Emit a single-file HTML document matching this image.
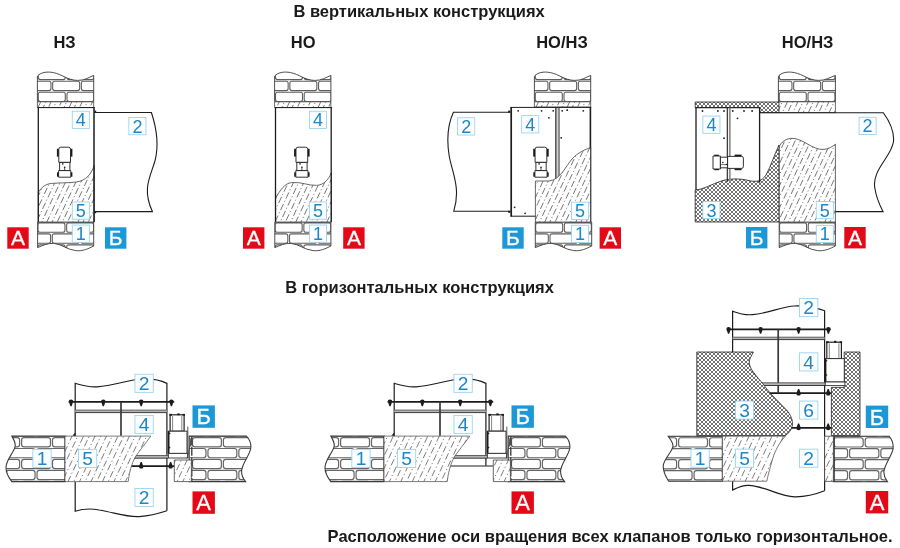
<!DOCTYPE html>
<html lang="ru"><head><meta charset="utf-8"><title>Схемы установки клапанов</title>
<style>
html,body{margin:0;padding:0;background:#fff;}
body{width:900px;height:548px;overflow:hidden;font-family:"Liberation Sans",sans-serif;}
svg{display:block;font-family:"Liberation Sans",sans-serif;opacity:0.999;will-change:transform;}
</style></head><body>
<svg width="900" height="548" viewBox="0 0 900 548">
<defs>
<pattern id="xh" width="4" height="4" patternUnits="userSpaceOnUse">
<rect width="4" height="4" fill="#fff"/>
<path d="M-1 -1 L5 5 M-1 5 L5 -1 M-1 3 L1 5 M3 -1 L5 1 M-1 1 L1 -1 M3 5 L5 3" stroke="#222" stroke-width="0.5" fill="none"/>
<path d="M0 0 h0.01 M4 0 h0.01 M0 4 h0.01 M4 4 h0.01 M2 2 h0.01" stroke="#1a1a1a" stroke-width="1.0" stroke-linecap="square" fill="none"/>
</pattern>
<clipPath id="c1"><path d="M37.4 101.6 V76.2 C40.4 72.6 46.4 71.2 53.4 72.6 C62.4 74.4 67.4 80.2 77.4 80.4 C84.4 80.6 88.4 77.6 93.7 75.4 V101.6 Z"/></clipPath>
<clipPath id="c2"><path d="M37.4 101.8 H93.7 V107.5 H37.4 Z"/></clipPath>
<clipPath id="c3"><path d="M37.6 222 H93.7 V246 C88.7 248.5 82.7 251.5 75.7 250.6 C66.7 249.6 61.7 244 53.7 243.4 C47.7 243 42.7 245.5 37.6 247.6 Z"/></clipPath>
<clipPath id="c4"><path d="M38.3 192.4 C42.3 186 46.3 183.8 52.3 183.4 C62.3 182.6 68.3 183 76.3 182 C86.3 180.6 91.3 174 94.2 165.4 V222 H38.3 Z"/></clipPath>
<clipPath id="c5"><path d="M274.6 101.6 V76.2 C277.6 72.6 283.6 71.2 290.6 72.6 C299.6 74.4 304.6 80.2 314.6 80.4 C321.6 80.6 325.6 77.6 330.9 75.4 V101.6 Z"/></clipPath>
<clipPath id="c6"><path d="M274.6 101.8 H330.9 V107.5 H274.6 Z"/></clipPath>
<clipPath id="c7"><path d="M274.8 222 H330.9 V246 C325.9 248.5 319.9 251.5 312.9 250.6 C303.9 249.6 298.9 244 290.9 243.4 C284.9 243 279.9 245.5 274.8 247.6 Z"/></clipPath>
<clipPath id="c8"><path d="M275.5 198 C280.5 190 284.5 183.4 291.5 182.6 C301.5 181.6 307.5 185.6 316.5 185.4 C323.5 185 328.5 180 331.4 172.6 V222 H275.5 Z"/></clipPath>
<clipPath id="c9"><path d="M534.4 101.6 V76.2 C537.4 72.6 543.4 71.2 550.4 72.6 C559.4 74.4 564.4 80.2 574.4 80.4 C581.4 80.6 585.4 77.6 590.7 75.4 V101.6 Z"/></clipPath>
<clipPath id="c10"><path d="M534.4 101.8 H590.7 V107 H534.4 Z"/></clipPath>
<clipPath id="c11"><path d="M535.3 222 H591.7 V246 C586.7 248.5 580.7 251.5 573.7 250.6 C564.7 249.6 559.7 244 551.7 243.4 C545.7 243 540.7 245.5 535.3 247.6 Z"/></clipPath>
<clipPath id="c12"><path d="M535.4 181 H549 C560 180 566 166 572 159 C578 152.5 585 149.4 590.8 147.6 V222 H535.4 Z"/></clipPath>
<clipPath id="c13"><path d="M778.4 101.6 V76.2 C781.4 72.6 787.4 71.2 794.4 72.6 C803.4 74.4 808.4 80.2 818.4 80.4 C825.4 80.6 829.4 77.6 835.4 75.4 V101.6 Z"/></clipPath>
<clipPath id="c14"><path d="M778.4 101.8 H835.4 V112.6 H778.4 Z"/></clipPath>
<clipPath id="c15"><path d="M779.2 222 H835.4 V246 C830.4 248.5 824.4 251.5 817.4 250.6 C808.4 249.6 803.4 244 795.4 243.4 C789.4 243 784.4 245.5 779.2 247.6 Z"/></clipPath>
<clipPath id="c16"><path d="M779 222 V148 C779.6 144 784 139.4 790.5 138.4 C802 137 812 150.5 824 149.4 C829 148.8 832.5 146.6 835.4 144.2 V222 Z"/></clipPath>
<clipPath id="c17"><path d="M65 436.1 H11.8 C13.4 439 15.6 442 15.2 446 C14.4 452 6.4 459 6 467 C5.8 472 9 478 11.8 481.6 H65 Z"/></clipPath>
<clipPath id="c18"><path d="M189.2 436.1 H246.4 C249.4 439 251.2 443 250.8 448 C250 455 242.2 463 241.6 471 C241.4 475 243.4 479 245.6 481.6 H189.2 Z"/></clipPath>
<clipPath id="c19"><path d="M65 436.1 H150.8 C145 444 138.6 452 135.2 457 C131.4 464 129.2 473 128.2 481.6 H65 Z"/></clipPath>
<clipPath id="c20"><path d="M174.3 460 H191.4 V481.6 H174.3 Z"/></clipPath>
<clipPath id="c21"><path d="M384 436.1 H330.8 C332.4 439 334.6 442 334.2 446 C333.4 452 325.4 459 325 467 C324.8 472 328 478 330.8 481.6 H384 Z"/></clipPath>
<clipPath id="c22"><path d="M508.2 436.1 H565.4 C568.4 439 570.2 443 569.8 448 C569 455 561.2 463 560.6 471 C560.4 475 562.4 479 564.6 481.6 H508.2 Z"/></clipPath>
<clipPath id="c23"><path d="M384 436.1 H469.8 C464 444 457.6 452 454.2 457 C450.4 464 448.2 473 447.2 481.6 H384 Z"/></clipPath>
<clipPath id="c24"><path d="M493.3 460 H510.4 V481.6 H493.3 Z"/></clipPath>
<clipPath id="c25"><path d="M722.4 436.2 H668.2 C669.8 439 673 442 673 446 C672.4 452 663.6 459 663.2 466 C663 472 666 477 668.6 481.2 H722.4 Z"/></clipPath>
<clipPath id="c26"><path d="M833.4 436.2 H889 C891.6 439 893.4 443 893.2 448 C892.6 455 884.4 464 883.8 472 C883.8 476 885.4 479 887.4 481.7 H833.4 Z"/></clipPath>
<clipPath id="c27"><path d="M722.4 436.2 H785.4 C779 443 775 451 772.6 459 C770 468 768 475 766.8 481.2 H722.4 Z"/></clipPath>
<clipPath id="c28"><path d="M824.6 436.2 H833.4 V481.4 H824.6 Z"/></clipPath></defs>
<rect width="900" height="548" fill="#fff"/>
<text x="293.4" y="16.6" font-size="16.5" font-weight="bold" fill="#1a1a1a" text-anchor="start" letter-spacing="0">В вертикальных конструкциях</text>
<text x="53.4" y="47.6" font-size="16.5" font-weight="bold" fill="#1a1a1a" text-anchor="start" letter-spacing="0">НЗ</text>
<text x="290.8" y="47.6" font-size="16.5" font-weight="bold" fill="#1a1a1a" text-anchor="start" letter-spacing="0">НО</text>
<text x="536.2" y="47.8" font-size="16.5" font-weight="bold" fill="#1a1a1a" text-anchor="start" letter-spacing="0">НО/НЗ</text>
<text x="781.8" y="47.8" font-size="16.5" font-weight="bold" fill="#1a1a1a" text-anchor="start" letter-spacing="0">НО/НЗ</text>
<text x="285.2" y="292.6" font-size="16.5" font-weight="bold" fill="#1a1a1a" text-anchor="start" letter-spacing="0">В горизонтальных конструкциях</text>
<text x="327.6" y="541.8" font-size="16.5" font-weight="bold" fill="#1a1a1a" text-anchor="start" letter-spacing="0">Расположение оси вращения всех клапанов только горизонтальное.</text>
<g fill="#fff" stroke="#5e5e5e" stroke-width="1.1"><g clip-path="url(#c1)"><rect x="-4.75" y="59.2" width="27" height="9.4" rx="2.0" ry="2.0"/><rect x="23.95" y="59.2" width="27" height="9.4" rx="2.0" ry="2.0"/><rect x="52.65" y="59.2" width="27" height="9.4" rx="2.0" ry="2.0"/><rect x="81.35" y="59.2" width="27" height="9.4" rx="2.0" ry="2.0"/><rect x="110.05" y="59.2" width="27" height="9.4" rx="2.0" ry="2.0"/><rect x="-19.1" y="70.2" width="27" height="9.4" rx="2.0" ry="2.0"/><rect x="9.6" y="70.2" width="27" height="9.4" rx="2.0" ry="2.0"/><rect x="38.3" y="70.2" width="27" height="9.4" rx="2.0" ry="2.0"/><rect x="67" y="70.2" width="27" height="9.4" rx="2.0" ry="2.0"/><rect x="95.7" y="70.2" width="27" height="9.4" rx="2.0" ry="2.0"/><rect x="-4.75" y="81.2" width="27" height="9.4" rx="2.0" ry="2.0"/><rect x="23.95" y="81.2" width="27" height="9.4" rx="2.0" ry="2.0"/><rect x="52.65" y="81.2" width="27" height="9.4" rx="2.0" ry="2.0"/><rect x="81.35" y="81.2" width="27" height="9.4" rx="2.0" ry="2.0"/><rect x="110.05" y="81.2" width="27" height="9.4" rx="2.0" ry="2.0"/><rect x="-19.1" y="92.2" width="27" height="9.4" rx="2.0" ry="2.0"/><rect x="9.6" y="92.2" width="27" height="9.4" rx="2.0" ry="2.0"/><rect x="38.3" y="92.2" width="27" height="9.4" rx="2.0" ry="2.0"/><rect x="67" y="92.2" width="27" height="9.4" rx="2.0" ry="2.0"/><rect x="95.7" y="92.2" width="27" height="9.4" rx="2.0" ry="2.0"/><rect x="-4.75" y="103.2" width="27" height="9.4" rx="2.0" ry="2.0"/><rect x="23.95" y="103.2" width="27" height="9.4" rx="2.0" ry="2.0"/><rect x="52.65" y="103.2" width="27" height="9.4" rx="2.0" ry="2.0"/><rect x="81.35" y="103.2" width="27" height="9.4" rx="2.0" ry="2.0"/><rect x="110.05" y="103.2" width="27" height="9.4" rx="2.0" ry="2.0"/></g></g>
<path d="M37.4 101.6 V76.2 C40.4 72.6 46.4 71.2 53.4 72.6 C62.4 74.4 67.4 80.2 77.4 80.4 C84.4 80.6 88.4 77.6 93.7 75.4 V101.6 Z" fill="none" stroke="#3a3a3a" stroke-width="0.9"/>
<path d="M37.4 101.8 H93.7 V107.5 H37.4 Z" fill="#fff"/>
<g clip-path="url(#c2)" stroke="#505050" stroke-width="0.78" stroke-dasharray="6.8 2.4 1.1 2.4" fill="none"><line x1="37.57" y1="108.5" x2="41.16" y2="100.8" stroke-dashoffset="11.83"/><line x1="42.75" y1="108.5" x2="46.34" y2="100.8" stroke-dashoffset="2.88"/><line x1="47.94" y1="108.5" x2="51.53" y2="100.8" stroke-dashoffset="10.53"/><line x1="53.12" y1="108.5" x2="56.71" y2="100.8" stroke-dashoffset="5.48"/><line x1="58.31" y1="108.5" x2="61.9" y2="100.8" stroke-dashoffset="9.23"/><line x1="63.49" y1="108.5" x2="67.09" y2="100.8" stroke-dashoffset="4.18"/><line x1="68.68" y1="108.5" x2="72.27" y2="100.8" stroke-dashoffset="11.83"/><line x1="73.87" y1="108.5" x2="77.46" y2="100.8" stroke-dashoffset="2.88"/><line x1="79.05" y1="108.5" x2="82.64" y2="100.8" stroke-dashoffset="10.53"/><line x1="84.24" y1="108.5" x2="87.83" y2="100.8" stroke-dashoffset="5.48"/><line x1="89.42" y1="108.5" x2="93.01" y2="100.8" stroke-dashoffset="9.23"/><line x1="94.61" y1="108.5" x2="98.2" y2="100.8" stroke-dashoffset="4.18"/></g>
<path d="M37.4 101.8 H93.7 V107.5 H37.4 Z" fill="none" stroke="#444" stroke-width="0.8"/>
<g fill="#fff" stroke="#5e5e5e" stroke-width="1.1"><g clip-path="url(#c3)"><rect x="9.25" y="200.9" width="27" height="9.4" rx="2.0" ry="2.0"/><rect x="37.95" y="200.9" width="27" height="9.4" rx="2.0" ry="2.0"/><rect x="66.65" y="200.9" width="27" height="9.4" rx="2.0" ry="2.0"/><rect x="95.35" y="200.9" width="27" height="9.4" rx="2.0" ry="2.0"/><rect x="-5.1" y="211.9" width="27" height="9.4" rx="2.0" ry="2.0"/><rect x="23.6" y="211.9" width="27" height="9.4" rx="2.0" ry="2.0"/><rect x="52.3" y="211.9" width="27" height="9.4" rx="2.0" ry="2.0"/><rect x="81" y="211.9" width="27" height="9.4" rx="2.0" ry="2.0"/><rect x="109.7" y="211.9" width="27" height="9.4" rx="2.0" ry="2.0"/><rect x="9.25" y="222.9" width="27" height="9.4" rx="2.0" ry="2.0"/><rect x="37.95" y="222.9" width="27" height="9.4" rx="2.0" ry="2.0"/><rect x="66.65" y="222.9" width="27" height="9.4" rx="2.0" ry="2.0"/><rect x="95.35" y="222.9" width="27" height="9.4" rx="2.0" ry="2.0"/><rect x="-5.1" y="233.9" width="27" height="9.4" rx="2.0" ry="2.0"/><rect x="23.6" y="233.9" width="27" height="9.4" rx="2.0" ry="2.0"/><rect x="52.3" y="233.9" width="27" height="9.4" rx="2.0" ry="2.0"/><rect x="81" y="233.9" width="27" height="9.4" rx="2.0" ry="2.0"/><rect x="109.7" y="233.9" width="27" height="9.4" rx="2.0" ry="2.0"/><rect x="9.25" y="244.9" width="27" height="9.4" rx="2.0" ry="2.0"/><rect x="37.95" y="244.9" width="27" height="9.4" rx="2.0" ry="2.0"/><rect x="66.65" y="244.9" width="27" height="9.4" rx="2.0" ry="2.0"/><rect x="95.35" y="244.9" width="27" height="9.4" rx="2.0" ry="2.0"/><rect x="-5.1" y="255.9" width="27" height="9.4" rx="2.0" ry="2.0"/><rect x="23.6" y="255.9" width="27" height="9.4" rx="2.0" ry="2.0"/><rect x="52.3" y="255.9" width="27" height="9.4" rx="2.0" ry="2.0"/><rect x="81" y="255.9" width="27" height="9.4" rx="2.0" ry="2.0"/><rect x="109.7" y="255.9" width="27" height="9.4" rx="2.0" ry="2.0"/></g></g>
<path d="M37.6 222 H93.7 V246 C88.7 248.5 82.7 251.5 75.7 250.6 C66.7 249.6 61.7 244 53.7 243.4 C47.7 243 42.7 245.5 37.6 247.6 Z" fill="none" stroke="#3a3a3a" stroke-width="0.9"/>
<path d="M38.3 192.4 C42.3 186 46.3 183.8 52.3 183.4 C62.3 182.6 68.3 183 76.3 182 C86.3 180.6 91.3 174 94.2 165.4 V222 H38.3 Z" fill="#fff"/>
<g clip-path="url(#c4)" stroke="#505050" stroke-width="0.78" stroke-dasharray="6.8 2.4 1.1 2.4" fill="none"><line x1="10.1" y1="223" x2="37.43" y2="164.4" stroke-dashoffset="4.84"/><line x1="15.29" y1="223" x2="42.61" y2="164.4" stroke-dashoffset="12.49"/><line x1="20.47" y1="223" x2="47.8" y2="164.4" stroke-dashoffset="3.54"/><line x1="25.66" y1="223" x2="52.99" y2="164.4" stroke-dashoffset="11.19"/><line x1="30.85" y1="223" x2="58.17" y2="164.4" stroke-dashoffset="6.14"/><line x1="36.03" y1="223" x2="63.36" y2="164.4" stroke-dashoffset="9.89"/><line x1="41.22" y1="223" x2="68.54" y2="164.4" stroke-dashoffset="4.84"/><line x1="46.4" y1="223" x2="73.73" y2="164.4" stroke-dashoffset="12.49"/><line x1="51.59" y1="223" x2="78.92" y2="164.4" stroke-dashoffset="3.54"/><line x1="56.78" y1="223" x2="84.1" y2="164.4" stroke-dashoffset="11.19"/><line x1="61.96" y1="223" x2="89.29" y2="164.4" stroke-dashoffset="6.14"/><line x1="67.15" y1="223" x2="94.47" y2="164.4" stroke-dashoffset="9.89"/><line x1="72.33" y1="223" x2="99.66" y2="164.4" stroke-dashoffset="4.84"/><line x1="77.52" y1="223" x2="104.84" y2="164.4" stroke-dashoffset="12.49"/><line x1="82.7" y1="223" x2="110.03" y2="164.4" stroke-dashoffset="3.54"/><line x1="87.89" y1="223" x2="115.22" y2="164.4" stroke-dashoffset="11.19"/><line x1="93.08" y1="223" x2="120.4" y2="164.4" stroke-dashoffset="6.14"/></g>
<path d="M38.3 192.4 C42.3 186 46.3 183.8 52.3 183.4 C62.3 182.6 68.3 183 76.3 182 C86.3 180.6 91.3 174 94.2 165.4 V222 H38.3 Z" fill="none" stroke="#444" stroke-width="0.8"/>
<line x1="38.3" y1="107.4" x2="38.3" y2="222" stroke="#1c1c1c" stroke-width="1.3" />
<line x1="94" y1="107.4" x2="94" y2="222" stroke="#1c1c1c" stroke-width="1.5" />
<line x1="37.6" y1="107.6" x2="94.9" y2="107.6" stroke="#1c1c1c" stroke-width="1.0" />
<g transform="translate(0 0)">
<rect x="56.9" y="148.8" width="2" height="7.8" fill="#1c1c1c" stroke="none" stroke-width="0" rx="0"/>
<rect x="70.4" y="148.8" width="2" height="7.8" fill="#1c1c1c" stroke="none" stroke-width="0" rx="0"/>
<path d="M58.8 162.4 V149.2 Q58.8 147.2 60.8 147.2 H68.5 Q70.5 147.2 70.5 149.2 V162.4 Z" fill="#fff" stroke="#1c1c1c" stroke-width="0.9"/>
<path d="M59.6 162.4 H69.9 V170.6 H59.6 Z" fill="#fff" stroke="#1c1c1c" stroke-width="0.9"/>
<rect x="57" y="172.3" width="2.2" height="4.4" fill="#1c1c1c" stroke="none" stroke-width="0" rx="0"/>
<rect x="70.2" y="172.3" width="2.2" height="4.4" fill="#1c1c1c" stroke="none" stroke-width="0" rx="0"/>
<path d="M58.6 170.6 H70.8 V177.2 H58.6 Z" fill="#fff" stroke="#1c1c1c" stroke-width="0.9"/>
<circle cx="62.8" cy="163.9" r="0.8" fill="#1c1c1c"/>
<circle cx="64.7" cy="167.3" r="0.8" fill="#1c1c1c"/>
<line x1="64.7" y1="167.3" x2="64.7" y2="170.4" stroke="#1c1c1c" stroke-width="0.8" />
</g>
<path d="M94.2 112.5 H151.4 C156.5 128 158.6 146 155.2 160 C151 176 141.5 188 152.4 211.6 H94.2" fill="none" stroke="#1c1c1c" stroke-width="1.1"/>
<rect x="94.4" y="110.6" width="1.8" height="1.8" fill="#1c1c1c" stroke="none" stroke-width="0" rx="0"/>
<rect x="94.4" y="211.4" width="1.8" height="1.8" fill="#1c1c1c" stroke="none" stroke-width="0" rx="0"/>
<rect x="72.25" y="111.25" width="17.1" height="17.3" fill="#fcfeff" stroke="#97d0ef" stroke-width="0.85"/>
<text x="80.8" y="126.34" font-size="18" fill="#1b86c9" text-anchor="middle">4</text>
<rect x="128.85" y="117.45" width="17.1" height="17.3" fill="#fcfeff" stroke="#97d0ef" stroke-width="0.85"/>
<text x="137.4" y="132.54" font-size="18" fill="#1b86c9" text-anchor="middle">2</text>
<rect x="72.25" y="201.95" width="17.1" height="17.3" fill="#fcfeff" stroke="#97d0ef" stroke-width="0.85"/>
<text x="80.8" y="217.04" font-size="18" fill="#1b86c9" text-anchor="middle">5</text>
<rect x="72.25" y="225.05" width="17.1" height="17.3" fill="#fcfeff" stroke="#97d0ef" stroke-width="0.85"/>
<text x="80.8" y="240.14" font-size="18" fill="#1b86c9" text-anchor="middle">1</text>
<rect x="7.3" y="227.3" width="21.4" height="21.4" fill="#e20a17"/>
<text x="18" y="245.46" font-size="21" fill="#fff" stroke="#fff" stroke-width="0.3" text-anchor="middle">A</text>
<rect x="105" y="227.3" width="21.4" height="21.4" fill="#1d98d6"/>
<text x="115.7" y="245.46" font-size="21" fill="#fff" stroke="#fff" stroke-width="0.3" text-anchor="middle">Б</text>
<g fill="#fff" stroke="#5e5e5e" stroke-width="1.1"><g clip-path="url(#c5)"><rect x="232.45" y="59.2" width="27" height="9.4" rx="2.0" ry="2.0"/><rect x="261.15" y="59.2" width="27" height="9.4" rx="2.0" ry="2.0"/><rect x="289.85" y="59.2" width="27" height="9.4" rx="2.0" ry="2.0"/><rect x="318.55" y="59.2" width="27" height="9.4" rx="2.0" ry="2.0"/><rect x="347.25" y="59.2" width="27" height="9.4" rx="2.0" ry="2.0"/><rect x="218.1" y="70.2" width="27" height="9.4" rx="2.0" ry="2.0"/><rect x="246.8" y="70.2" width="27" height="9.4" rx="2.0" ry="2.0"/><rect x="275.5" y="70.2" width="27" height="9.4" rx="2.0" ry="2.0"/><rect x="304.2" y="70.2" width="27" height="9.4" rx="2.0" ry="2.0"/><rect x="332.9" y="70.2" width="27" height="9.4" rx="2.0" ry="2.0"/><rect x="232.45" y="81.2" width="27" height="9.4" rx="2.0" ry="2.0"/><rect x="261.15" y="81.2" width="27" height="9.4" rx="2.0" ry="2.0"/><rect x="289.85" y="81.2" width="27" height="9.4" rx="2.0" ry="2.0"/><rect x="318.55" y="81.2" width="27" height="9.4" rx="2.0" ry="2.0"/><rect x="347.25" y="81.2" width="27" height="9.4" rx="2.0" ry="2.0"/><rect x="218.1" y="92.2" width="27" height="9.4" rx="2.0" ry="2.0"/><rect x="246.8" y="92.2" width="27" height="9.4" rx="2.0" ry="2.0"/><rect x="275.5" y="92.2" width="27" height="9.4" rx="2.0" ry="2.0"/><rect x="304.2" y="92.2" width="27" height="9.4" rx="2.0" ry="2.0"/><rect x="332.9" y="92.2" width="27" height="9.4" rx="2.0" ry="2.0"/><rect x="232.45" y="103.2" width="27" height="9.4" rx="2.0" ry="2.0"/><rect x="261.15" y="103.2" width="27" height="9.4" rx="2.0" ry="2.0"/><rect x="289.85" y="103.2" width="27" height="9.4" rx="2.0" ry="2.0"/><rect x="318.55" y="103.2" width="27" height="9.4" rx="2.0" ry="2.0"/><rect x="347.25" y="103.2" width="27" height="9.4" rx="2.0" ry="2.0"/></g></g>
<path d="M274.6 101.6 V76.2 C277.6 72.6 283.6 71.2 290.6 72.6 C299.6 74.4 304.6 80.2 314.6 80.4 C321.6 80.6 325.6 77.6 330.9 75.4 V101.6 Z" fill="none" stroke="#3a3a3a" stroke-width="0.9"/>
<path d="M274.6 101.8 H330.9 V107.5 H274.6 Z" fill="#fff"/>
<g clip-path="url(#c6)" stroke="#505050" stroke-width="0.78" stroke-dasharray="6.8 2.4 1.1 2.4" fill="none"><line x1="270.93" y1="108.5" x2="274.52" y2="100.8" stroke-dashoffset="5.48"/><line x1="276.12" y1="108.5" x2="279.71" y2="100.8" stroke-dashoffset="9.23"/><line x1="281.3" y1="108.5" x2="284.89" y2="100.8" stroke-dashoffset="4.18"/><line x1="286.49" y1="108.5" x2="290.08" y2="100.8" stroke-dashoffset="11.83"/><line x1="291.67" y1="108.5" x2="295.26" y2="100.8" stroke-dashoffset="2.88"/><line x1="296.86" y1="108.5" x2="300.45" y2="100.8" stroke-dashoffset="10.53"/><line x1="302.05" y1="108.5" x2="305.64" y2="100.8" stroke-dashoffset="5.48"/><line x1="307.23" y1="108.5" x2="310.82" y2="100.8" stroke-dashoffset="9.23"/><line x1="312.42" y1="108.5" x2="316.01" y2="100.8" stroke-dashoffset="4.18"/><line x1="317.6" y1="108.5" x2="321.19" y2="100.8" stroke-dashoffset="11.83"/><line x1="322.79" y1="108.5" x2="326.38" y2="100.8" stroke-dashoffset="2.88"/><line x1="327.97" y1="108.5" x2="331.57" y2="100.8" stroke-dashoffset="10.53"/></g>
<path d="M274.6 101.8 H330.9 V107.5 H274.6 Z" fill="none" stroke="#444" stroke-width="0.8"/>
<g fill="#fff" stroke="#5e5e5e" stroke-width="1.1"><g clip-path="url(#c7)"><rect x="246.45" y="200.9" width="27" height="9.4" rx="2.0" ry="2.0"/><rect x="275.15" y="200.9" width="27" height="9.4" rx="2.0" ry="2.0"/><rect x="303.85" y="200.9" width="27" height="9.4" rx="2.0" ry="2.0"/><rect x="332.55" y="200.9" width="27" height="9.4" rx="2.0" ry="2.0"/><rect x="232.1" y="211.9" width="27" height="9.4" rx="2.0" ry="2.0"/><rect x="260.8" y="211.9" width="27" height="9.4" rx="2.0" ry="2.0"/><rect x="289.5" y="211.9" width="27" height="9.4" rx="2.0" ry="2.0"/><rect x="318.2" y="211.9" width="27" height="9.4" rx="2.0" ry="2.0"/><rect x="346.9" y="211.9" width="27" height="9.4" rx="2.0" ry="2.0"/><rect x="246.45" y="222.9" width="27" height="9.4" rx="2.0" ry="2.0"/><rect x="275.15" y="222.9" width="27" height="9.4" rx="2.0" ry="2.0"/><rect x="303.85" y="222.9" width="27" height="9.4" rx="2.0" ry="2.0"/><rect x="332.55" y="222.9" width="27" height="9.4" rx="2.0" ry="2.0"/><rect x="232.1" y="233.9" width="27" height="9.4" rx="2.0" ry="2.0"/><rect x="260.8" y="233.9" width="27" height="9.4" rx="2.0" ry="2.0"/><rect x="289.5" y="233.9" width="27" height="9.4" rx="2.0" ry="2.0"/><rect x="318.2" y="233.9" width="27" height="9.4" rx="2.0" ry="2.0"/><rect x="346.9" y="233.9" width="27" height="9.4" rx="2.0" ry="2.0"/><rect x="246.45" y="244.9" width="27" height="9.4" rx="2.0" ry="2.0"/><rect x="275.15" y="244.9" width="27" height="9.4" rx="2.0" ry="2.0"/><rect x="303.85" y="244.9" width="27" height="9.4" rx="2.0" ry="2.0"/><rect x="332.55" y="244.9" width="27" height="9.4" rx="2.0" ry="2.0"/><rect x="232.1" y="255.9" width="27" height="9.4" rx="2.0" ry="2.0"/><rect x="260.8" y="255.9" width="27" height="9.4" rx="2.0" ry="2.0"/><rect x="289.5" y="255.9" width="27" height="9.4" rx="2.0" ry="2.0"/><rect x="318.2" y="255.9" width="27" height="9.4" rx="2.0" ry="2.0"/><rect x="346.9" y="255.9" width="27" height="9.4" rx="2.0" ry="2.0"/></g></g>
<path d="M274.8 222 H330.9 V246 C325.9 248.5 319.9 251.5 312.9 250.6 C303.9 249.6 298.9 244 290.9 243.4 C284.9 243 279.9 245.5 274.8 247.6 Z" fill="none" stroke="#3a3a3a" stroke-width="0.9"/>
<path d="M275.5 198 C280.5 190 284.5 183.4 291.5 182.6 C301.5 181.6 307.5 185.6 316.5 185.4 C323.5 185 328.5 180 331.4 172.6 V222 H275.5 Z" fill="#fff"/>
<g clip-path="url(#c8)" stroke="#505050" stroke-width="0.78" stroke-dasharray="6.8 2.4 1.1 2.4" fill="none"><line x1="253.84" y1="223" x2="277.81" y2="171.6" stroke-dashoffset="9.89"/><line x1="259.02" y1="223" x2="282.99" y2="171.6" stroke-dashoffset="4.84"/><line x1="264.21" y1="223" x2="288.18" y2="171.6" stroke-dashoffset="12.49"/><line x1="269.4" y1="223" x2="293.36" y2="171.6" stroke-dashoffset="3.54"/><line x1="274.58" y1="223" x2="298.55" y2="171.6" stroke-dashoffset="11.19"/><line x1="279.77" y1="223" x2="303.74" y2="171.6" stroke-dashoffset="6.14"/><line x1="284.95" y1="223" x2="308.92" y2="171.6" stroke-dashoffset="9.89"/><line x1="290.14" y1="223" x2="314.11" y2="171.6" stroke-dashoffset="4.84"/><line x1="295.33" y1="223" x2="319.29" y2="171.6" stroke-dashoffset="12.49"/><line x1="300.51" y1="223" x2="324.48" y2="171.6" stroke-dashoffset="3.54"/><line x1="305.7" y1="223" x2="329.67" y2="171.6" stroke-dashoffset="11.19"/><line x1="310.88" y1="223" x2="334.85" y2="171.6" stroke-dashoffset="6.14"/><line x1="316.07" y1="223" x2="340.04" y2="171.6" stroke-dashoffset="9.89"/><line x1="321.26" y1="223" x2="345.22" y2="171.6" stroke-dashoffset="4.84"/><line x1="326.44" y1="223" x2="350.41" y2="171.6" stroke-dashoffset="12.49"/><line x1="331.63" y1="223" x2="355.6" y2="171.6" stroke-dashoffset="3.54"/></g>
<path d="M275.5 198 C280.5 190 284.5 183.4 291.5 182.6 C301.5 181.6 307.5 185.6 316.5 185.4 C323.5 185 328.5 180 331.4 172.6 V222 H275.5 Z" fill="none" stroke="#444" stroke-width="0.8"/>
<line x1="275.5" y1="107.4" x2="275.5" y2="222" stroke="#1c1c1c" stroke-width="1.3" />
<line x1="331.2" y1="107.4" x2="331.2" y2="222" stroke="#1c1c1c" stroke-width="1.3" />
<line x1="274.8" y1="107.6" x2="332.1" y2="107.6" stroke="#1c1c1c" stroke-width="1.0" />
<g transform="translate(237.2 0)">
<rect x="56.9" y="148.8" width="2" height="7.8" fill="#1c1c1c" stroke="none" stroke-width="0" rx="0"/>
<rect x="70.4" y="148.8" width="2" height="7.8" fill="#1c1c1c" stroke="none" stroke-width="0" rx="0"/>
<path d="M58.8 162.4 V149.2 Q58.8 147.2 60.8 147.2 H68.5 Q70.5 147.2 70.5 149.2 V162.4 Z" fill="#fff" stroke="#1c1c1c" stroke-width="0.9"/>
<path d="M59.6 162.4 H69.9 V170.6 H59.6 Z" fill="#fff" stroke="#1c1c1c" stroke-width="0.9"/>
<rect x="57" y="172.3" width="2.2" height="4.4" fill="#1c1c1c" stroke="none" stroke-width="0" rx="0"/>
<rect x="70.2" y="172.3" width="2.2" height="4.4" fill="#1c1c1c" stroke="none" stroke-width="0" rx="0"/>
<path d="M58.6 170.6 H70.8 V177.2 H58.6 Z" fill="#fff" stroke="#1c1c1c" stroke-width="0.9"/>
<circle cx="62.8" cy="163.9" r="0.8" fill="#1c1c1c"/>
<circle cx="64.7" cy="167.3" r="0.8" fill="#1c1c1c"/>
<line x1="64.7" y1="167.3" x2="64.7" y2="170.4" stroke="#1c1c1c" stroke-width="0.8" />
</g>
<rect x="309.45" y="111.25" width="17.1" height="17.3" fill="#fcfeff" stroke="#97d0ef" stroke-width="0.85"/>
<text x="318" y="126.34" font-size="18" fill="#1b86c9" text-anchor="middle">4</text>
<rect x="309.45" y="201.95" width="17.1" height="17.3" fill="#fcfeff" stroke="#97d0ef" stroke-width="0.85"/>
<text x="318" y="217.04" font-size="18" fill="#1b86c9" text-anchor="middle">5</text>
<rect x="309.45" y="225.05" width="17.1" height="17.3" fill="#fcfeff" stroke="#97d0ef" stroke-width="0.85"/>
<text x="318" y="240.14" font-size="18" fill="#1b86c9" text-anchor="middle">1</text>
<rect x="243" y="227.3" width="21.4" height="21.4" fill="#e20a17"/>
<text x="253.7" y="245.46" font-size="21" fill="#fff" stroke="#fff" stroke-width="0.3" text-anchor="middle">A</text>
<rect x="343.2" y="227.3" width="21.4" height="21.4" fill="#e20a17"/>
<text x="353.9" y="245.46" font-size="21" fill="#fff" stroke="#fff" stroke-width="0.3" text-anchor="middle">A</text>
<g fill="#fff" stroke="#5e5e5e" stroke-width="1.1"><g clip-path="url(#c9)"><rect x="492.25" y="59.2" width="27" height="9.4" rx="2.0" ry="2.0"/><rect x="520.95" y="59.2" width="27" height="9.4" rx="2.0" ry="2.0"/><rect x="549.65" y="59.2" width="27" height="9.4" rx="2.0" ry="2.0"/><rect x="578.35" y="59.2" width="27" height="9.4" rx="2.0" ry="2.0"/><rect x="607.05" y="59.2" width="27" height="9.4" rx="2.0" ry="2.0"/><rect x="477.9" y="70.2" width="27" height="9.4" rx="2.0" ry="2.0"/><rect x="506.6" y="70.2" width="27" height="9.4" rx="2.0" ry="2.0"/><rect x="535.3" y="70.2" width="27" height="9.4" rx="2.0" ry="2.0"/><rect x="564" y="70.2" width="27" height="9.4" rx="2.0" ry="2.0"/><rect x="592.7" y="70.2" width="27" height="9.4" rx="2.0" ry="2.0"/><rect x="492.25" y="81.2" width="27" height="9.4" rx="2.0" ry="2.0"/><rect x="520.95" y="81.2" width="27" height="9.4" rx="2.0" ry="2.0"/><rect x="549.65" y="81.2" width="27" height="9.4" rx="2.0" ry="2.0"/><rect x="578.35" y="81.2" width="27" height="9.4" rx="2.0" ry="2.0"/><rect x="607.05" y="81.2" width="27" height="9.4" rx="2.0" ry="2.0"/><rect x="477.9" y="92.2" width="27" height="9.4" rx="2.0" ry="2.0"/><rect x="506.6" y="92.2" width="27" height="9.4" rx="2.0" ry="2.0"/><rect x="535.3" y="92.2" width="27" height="9.4" rx="2.0" ry="2.0"/><rect x="564" y="92.2" width="27" height="9.4" rx="2.0" ry="2.0"/><rect x="592.7" y="92.2" width="27" height="9.4" rx="2.0" ry="2.0"/><rect x="492.25" y="103.2" width="27" height="9.4" rx="2.0" ry="2.0"/><rect x="520.95" y="103.2" width="27" height="9.4" rx="2.0" ry="2.0"/><rect x="549.65" y="103.2" width="27" height="9.4" rx="2.0" ry="2.0"/><rect x="578.35" y="103.2" width="27" height="9.4" rx="2.0" ry="2.0"/><rect x="607.05" y="103.2" width="27" height="9.4" rx="2.0" ry="2.0"/></g></g>
<path d="M534.4 101.6 V76.2 C537.4 72.6 543.4 71.2 550.4 72.6 C559.4 74.4 564.4 80.2 574.4 80.4 C581.4 80.6 585.4 77.6 590.7 75.4 V101.6 Z" fill="none" stroke="#3a3a3a" stroke-width="0.9"/>
<path d="M534.4 101.8 H590.7 V107 H534.4 Z" fill="#fff"/>
<g clip-path="url(#c10)" stroke="#505050" stroke-width="0.78" stroke-dasharray="6.8 2.4 1.1 2.4" fill="none"><line x1="530.46" y1="108" x2="533.81" y2="100.8" stroke-dashoffset="4.73"/><line x1="535.64" y1="108" x2="539" y2="100.8" stroke-dashoffset="12.38"/><line x1="540.83" y1="108" x2="544.19" y2="100.8" stroke-dashoffset="3.43"/><line x1="546.01" y1="108" x2="549.37" y2="100.8" stroke-dashoffset="11.08"/><line x1="551.2" y1="108" x2="554.56" y2="100.8" stroke-dashoffset="6.03"/><line x1="556.39" y1="108" x2="559.74" y2="100.8" stroke-dashoffset="9.78"/><line x1="561.57" y1="108" x2="564.93" y2="100.8" stroke-dashoffset="4.73"/><line x1="566.76" y1="108" x2="570.12" y2="100.8" stroke-dashoffset="12.38"/><line x1="571.94" y1="108" x2="575.3" y2="100.8" stroke-dashoffset="3.43"/><line x1="577.13" y1="108" x2="580.49" y2="100.8" stroke-dashoffset="11.08"/><line x1="582.32" y1="108" x2="585.67" y2="100.8" stroke-dashoffset="6.03"/><line x1="587.5" y1="108" x2="590.86" y2="100.8" stroke-dashoffset="9.78"/></g>
<path d="M534.4 101.8 H590.7 V107 H534.4 Z" fill="none" stroke="#444" stroke-width="0.8"/>
<g fill="#fff" stroke="#5e5e5e" stroke-width="1.1"><g clip-path="url(#c11)"><rect x="506.95" y="200.9" width="27" height="9.4" rx="2.0" ry="2.0"/><rect x="535.65" y="200.9" width="27" height="9.4" rx="2.0" ry="2.0"/><rect x="564.35" y="200.9" width="27" height="9.4" rx="2.0" ry="2.0"/><rect x="593.05" y="200.9" width="27" height="9.4" rx="2.0" ry="2.0"/><rect x="492.6" y="211.9" width="27" height="9.4" rx="2.0" ry="2.0"/><rect x="521.3" y="211.9" width="27" height="9.4" rx="2.0" ry="2.0"/><rect x="550" y="211.9" width="27" height="9.4" rx="2.0" ry="2.0"/><rect x="578.7" y="211.9" width="27" height="9.4" rx="2.0" ry="2.0"/><rect x="607.4" y="211.9" width="27" height="9.4" rx="2.0" ry="2.0"/><rect x="506.95" y="222.9" width="27" height="9.4" rx="2.0" ry="2.0"/><rect x="535.65" y="222.9" width="27" height="9.4" rx="2.0" ry="2.0"/><rect x="564.35" y="222.9" width="27" height="9.4" rx="2.0" ry="2.0"/><rect x="593.05" y="222.9" width="27" height="9.4" rx="2.0" ry="2.0"/><rect x="492.6" y="233.9" width="27" height="9.4" rx="2.0" ry="2.0"/><rect x="521.3" y="233.9" width="27" height="9.4" rx="2.0" ry="2.0"/><rect x="550" y="233.9" width="27" height="9.4" rx="2.0" ry="2.0"/><rect x="578.7" y="233.9" width="27" height="9.4" rx="2.0" ry="2.0"/><rect x="607.4" y="233.9" width="27" height="9.4" rx="2.0" ry="2.0"/><rect x="506.95" y="244.9" width="27" height="9.4" rx="2.0" ry="2.0"/><rect x="535.65" y="244.9" width="27" height="9.4" rx="2.0" ry="2.0"/><rect x="564.35" y="244.9" width="27" height="9.4" rx="2.0" ry="2.0"/><rect x="593.05" y="244.9" width="27" height="9.4" rx="2.0" ry="2.0"/><rect x="492.6" y="255.9" width="27" height="9.4" rx="2.0" ry="2.0"/><rect x="521.3" y="255.9" width="27" height="9.4" rx="2.0" ry="2.0"/><rect x="550" y="255.9" width="27" height="9.4" rx="2.0" ry="2.0"/><rect x="578.7" y="255.9" width="27" height="9.4" rx="2.0" ry="2.0"/><rect x="607.4" y="255.9" width="27" height="9.4" rx="2.0" ry="2.0"/></g></g>
<path d="M535.3 222 H591.7 V246 C586.7 248.5 580.7 251.5 573.7 250.6 C564.7 249.6 559.7 244 551.7 243.4 C545.7 243 540.7 245.5 535.3 247.6 Z" fill="none" stroke="#3a3a3a" stroke-width="0.9"/>
<rect x="557.6" y="107.6" width="2.4" height="75" fill="#909090" stroke="none" stroke-width="0" rx="0"/>
<line x1="555.9" y1="107.4" x2="555.9" y2="184" stroke="#1c1c1c" stroke-width="1.2" />
<path d="M535.4 181 H549 C560 180 566 166 572 159 C578 152.5 585 149.4 590.8 147.6 V222 H535.4 Z" fill="#fff"/>
<g clip-path="url(#c12)" stroke="#505050" stroke-width="0.78" stroke-dasharray="6.8 2.4 1.1 2.4" fill="none"><line x1="502.76" y1="223" x2="538.39" y2="146.6" stroke-dashoffset="9.89"/><line x1="507.95" y1="223" x2="543.57" y2="146.6" stroke-dashoffset="4.84"/><line x1="513.13" y1="223" x2="548.76" y2="146.6" stroke-dashoffset="12.49"/><line x1="518.32" y1="223" x2="553.94" y2="146.6" stroke-dashoffset="3.54"/><line x1="523.5" y1="223" x2="559.13" y2="146.6" stroke-dashoffset="11.19"/><line x1="528.69" y1="223" x2="564.32" y2="146.6" stroke-dashoffset="6.14"/><line x1="533.88" y1="223" x2="569.5" y2="146.6" stroke-dashoffset="9.89"/><line x1="539.06" y1="223" x2="574.69" y2="146.6" stroke-dashoffset="4.84"/><line x1="544.25" y1="223" x2="579.87" y2="146.6" stroke-dashoffset="12.49"/><line x1="549.43" y1="223" x2="585.06" y2="146.6" stroke-dashoffset="3.54"/><line x1="554.62" y1="223" x2="590.25" y2="146.6" stroke-dashoffset="11.19"/><line x1="559.81" y1="223" x2="595.43" y2="146.6" stroke-dashoffset="6.14"/><line x1="564.99" y1="223" x2="600.62" y2="146.6" stroke-dashoffset="9.89"/><line x1="570.18" y1="223" x2="605.8" y2="146.6" stroke-dashoffset="4.84"/><line x1="575.36" y1="223" x2="610.99" y2="146.6" stroke-dashoffset="12.49"/><line x1="580.55" y1="223" x2="616.17" y2="146.6" stroke-dashoffset="3.54"/><line x1="585.73" y1="223" x2="621.36" y2="146.6" stroke-dashoffset="11.19"/><line x1="590.92" y1="223" x2="626.55" y2="146.6" stroke-dashoffset="6.14"/></g>
<path d="M535.4 181 H549 C560 180 566 166 572 159 C578 152.5 585 149.4 590.8 147.6 V222 H535.4 Z" fill="none" stroke="#444" stroke-width="0.8"/>
<line x1="511.2" y1="107.2" x2="511.2" y2="216.4" stroke="#1c1c1c" stroke-width="1.7" />
<line x1="510.4" y1="107.4" x2="591.2" y2="107.4" stroke="#1c1c1c" stroke-width="1.0" />
<line x1="510.4" y1="216.2" x2="535.4" y2="216.2" stroke="#1c1c1c" stroke-width="1.0" />
<line x1="590.4" y1="107.2" x2="590.4" y2="148" stroke="#1c1c1c" stroke-width="1.6" />
<line x1="590.7" y1="148" x2="590.7" y2="222" stroke="#333" stroke-width="0.9" />
<circle cx="518.2" cy="110.8" r="0.9" fill="#1c1c1c"/>
<circle cx="541.6" cy="110.8" r="0.9" fill="#1c1c1c"/>
<circle cx="553.2" cy="110.8" r="0.9" fill="#1c1c1c"/>
<circle cx="548.9" cy="117.8" r="0.9" fill="#1c1c1c"/>
<circle cx="562.2" cy="110.8" r="0.9" fill="#1c1c1c"/>
<circle cx="567.2" cy="110.2" r="0.9" fill="#1c1c1c"/>
<circle cx="583.3" cy="110.8" r="0.9" fill="#1c1c1c"/>
<circle cx="561.2" cy="137.8" r="0.9" fill="#1c1c1c"/>
<circle cx="514.6" cy="207.3" r="0.9" fill="#1c1c1c"/>
<circle cx="525.1" cy="213.3" r="0.9" fill="#1c1c1c"/>
<g transform="translate(476.3 0)">
<rect x="56.9" y="148.8" width="2" height="7.8" fill="#1c1c1c" stroke="none" stroke-width="0" rx="0"/>
<rect x="70.4" y="148.8" width="2" height="7.8" fill="#1c1c1c" stroke="none" stroke-width="0" rx="0"/>
<path d="M58.8 162.4 V149.2 Q58.8 147.2 60.8 147.2 H68.5 Q70.5 147.2 70.5 149.2 V162.4 Z" fill="#fff" stroke="#1c1c1c" stroke-width="0.9"/>
<path d="M59.6 162.4 H69.9 V170.6 H59.6 Z" fill="#fff" stroke="#1c1c1c" stroke-width="0.9"/>
<rect x="57" y="172.3" width="2.2" height="4.4" fill="#1c1c1c" stroke="none" stroke-width="0" rx="0"/>
<rect x="70.2" y="172.3" width="2.2" height="4.4" fill="#1c1c1c" stroke="none" stroke-width="0" rx="0"/>
<path d="M58.6 170.6 H70.8 V177.2 H58.6 Z" fill="#fff" stroke="#1c1c1c" stroke-width="0.9"/>
<circle cx="62.8" cy="163.9" r="0.8" fill="#1c1c1c"/>
<circle cx="64.7" cy="167.3" r="0.8" fill="#1c1c1c"/>
<line x1="64.7" y1="167.3" x2="64.7" y2="170.4" stroke="#1c1c1c" stroke-width="0.8" />
</g>
<path d="M510.4 112.3 H453.4 C448 124 446.6 140 449.2 156 C452 172 461 188 453.8 211.2 H510.4" fill="none" stroke="#1c1c1c" stroke-width="1.1"/>
<rect x="508.2" y="110.6" width="2.2" height="2" fill="#1c1c1c" stroke="none" stroke-width="0" rx="0"/>
<rect x="508.2" y="210.8" width="2.2" height="2" fill="#1c1c1c" stroke="none" stroke-width="0" rx="0"/>
<rect x="457.65" y="117.75" width="17.1" height="17.3" fill="#fcfeff" stroke="#97d0ef" stroke-width="0.85"/>
<text x="466.2" y="132.84" font-size="18" fill="#1b86c9" text-anchor="middle">2</text>
<rect x="521.65" y="115.65" width="17.1" height="17.3" fill="#fcfeff" stroke="#97d0ef" stroke-width="0.85"/>
<text x="530.2" y="130.74" font-size="18" fill="#1b86c9" text-anchor="middle">4</text>
<rect x="571.55" y="202.15" width="17.1" height="17.3" fill="#fcfeff" stroke="#97d0ef" stroke-width="0.85"/>
<text x="580.1" y="217.24" font-size="18" fill="#1b86c9" text-anchor="middle">5</text>
<rect x="571.55" y="225.25" width="17.1" height="17.3" fill="#fcfeff" stroke="#97d0ef" stroke-width="0.85"/>
<text x="580.1" y="240.34" font-size="18" fill="#1b86c9" text-anchor="middle">1</text>
<rect x="502.3" y="227.3" width="21.4" height="21.4" fill="#1d98d6"/>
<text x="513" y="245.46" font-size="21" fill="#fff" stroke="#fff" stroke-width="0.3" text-anchor="middle">Б</text>
<rect x="599.6" y="227.3" width="21.4" height="21.4" fill="#e20a17"/>
<text x="610.3" y="245.46" font-size="21" fill="#fff" stroke="#fff" stroke-width="0.3" text-anchor="middle">A</text>
<g fill="#fff" stroke="#5e5e5e" stroke-width="1.1"><g clip-path="url(#c13)"><rect x="736.25" y="59.2" width="27" height="9.4" rx="2.0" ry="2.0"/><rect x="764.95" y="59.2" width="27" height="9.4" rx="2.0" ry="2.0"/><rect x="793.65" y="59.2" width="27" height="9.4" rx="2.0" ry="2.0"/><rect x="822.35" y="59.2" width="27" height="9.4" rx="2.0" ry="2.0"/><rect x="851.05" y="59.2" width="27" height="9.4" rx="2.0" ry="2.0"/><rect x="721.9" y="70.2" width="27" height="9.4" rx="2.0" ry="2.0"/><rect x="750.6" y="70.2" width="27" height="9.4" rx="2.0" ry="2.0"/><rect x="779.3" y="70.2" width="27" height="9.4" rx="2.0" ry="2.0"/><rect x="808" y="70.2" width="27" height="9.4" rx="2.0" ry="2.0"/><rect x="836.7" y="70.2" width="27" height="9.4" rx="2.0" ry="2.0"/><rect x="736.25" y="81.2" width="27" height="9.4" rx="2.0" ry="2.0"/><rect x="764.95" y="81.2" width="27" height="9.4" rx="2.0" ry="2.0"/><rect x="793.65" y="81.2" width="27" height="9.4" rx="2.0" ry="2.0"/><rect x="822.35" y="81.2" width="27" height="9.4" rx="2.0" ry="2.0"/><rect x="851.05" y="81.2" width="27" height="9.4" rx="2.0" ry="2.0"/><rect x="721.9" y="92.2" width="27" height="9.4" rx="2.0" ry="2.0"/><rect x="750.6" y="92.2" width="27" height="9.4" rx="2.0" ry="2.0"/><rect x="779.3" y="92.2" width="27" height="9.4" rx="2.0" ry="2.0"/><rect x="808" y="92.2" width="27" height="9.4" rx="2.0" ry="2.0"/><rect x="836.7" y="92.2" width="27" height="9.4" rx="2.0" ry="2.0"/><rect x="736.25" y="103.2" width="27" height="9.4" rx="2.0" ry="2.0"/><rect x="764.95" y="103.2" width="27" height="9.4" rx="2.0" ry="2.0"/><rect x="793.65" y="103.2" width="27" height="9.4" rx="2.0" ry="2.0"/><rect x="822.35" y="103.2" width="27" height="9.4" rx="2.0" ry="2.0"/><rect x="851.05" y="103.2" width="27" height="9.4" rx="2.0" ry="2.0"/></g></g>
<path d="M778.4 101.6 V76.2 C781.4 72.6 787.4 71.2 794.4 72.6 C803.4 74.4 808.4 80.2 818.4 80.4 C825.4 80.6 829.4 77.6 835.4 75.4 V101.6 Z" fill="none" stroke="#3a3a3a" stroke-width="0.9"/>
<path d="M778.4 101.8 H835.4 V112.6 H778.4 Z" fill="#fff"/>
<g clip-path="url(#c14)" stroke="#505050" stroke-width="0.78" stroke-dasharray="6.8 2.4 1.1 2.4" fill="none"><line x1="771.58" y1="113.6" x2="777.55" y2="100.8" stroke-dashoffset="3.6"/><line x1="776.77" y1="113.6" x2="782.74" y2="100.8" stroke-dashoffset="11.25"/><line x1="781.95" y1="113.6" x2="787.92" y2="100.8" stroke-dashoffset="6.2"/><line x1="787.14" y1="113.6" x2="793.11" y2="100.8" stroke-dashoffset="9.95"/><line x1="792.33" y1="113.6" x2="798.29" y2="100.8" stroke-dashoffset="4.9"/><line x1="797.51" y1="113.6" x2="803.48" y2="100.8" stroke-dashoffset="12.55"/><line x1="802.7" y1="113.6" x2="808.67" y2="100.8" stroke-dashoffset="3.6"/><line x1="807.88" y1="113.6" x2="813.85" y2="100.8" stroke-dashoffset="11.25"/><line x1="813.07" y1="113.6" x2="819.04" y2="100.8" stroke-dashoffset="6.2"/><line x1="818.25" y1="113.6" x2="824.22" y2="100.8" stroke-dashoffset="9.95"/><line x1="823.44" y1="113.6" x2="829.41" y2="100.8" stroke-dashoffset="4.9"/><line x1="828.63" y1="113.6" x2="834.6" y2="100.8" stroke-dashoffset="12.55"/><line x1="833.81" y1="113.6" x2="839.78" y2="100.8" stroke-dashoffset="3.6"/></g>
<path d="M778.4 101.8 H835.4 V112.6 H778.4 Z" fill="none" stroke="#444" stroke-width="0.8"/>
<g fill="#fff" stroke="#5e5e5e" stroke-width="1.1"><g clip-path="url(#c15)"><rect x="750.85" y="200.9" width="27" height="9.4" rx="2.0" ry="2.0"/><rect x="779.55" y="200.9" width="27" height="9.4" rx="2.0" ry="2.0"/><rect x="808.25" y="200.9" width="27" height="9.4" rx="2.0" ry="2.0"/><rect x="836.95" y="200.9" width="27" height="9.4" rx="2.0" ry="2.0"/><rect x="736.5" y="211.9" width="27" height="9.4" rx="2.0" ry="2.0"/><rect x="765.2" y="211.9" width="27" height="9.4" rx="2.0" ry="2.0"/><rect x="793.9" y="211.9" width="27" height="9.4" rx="2.0" ry="2.0"/><rect x="822.6" y="211.9" width="27" height="9.4" rx="2.0" ry="2.0"/><rect x="851.3" y="211.9" width="27" height="9.4" rx="2.0" ry="2.0"/><rect x="750.85" y="222.9" width="27" height="9.4" rx="2.0" ry="2.0"/><rect x="779.55" y="222.9" width="27" height="9.4" rx="2.0" ry="2.0"/><rect x="808.25" y="222.9" width="27" height="9.4" rx="2.0" ry="2.0"/><rect x="836.95" y="222.9" width="27" height="9.4" rx="2.0" ry="2.0"/><rect x="736.5" y="233.9" width="27" height="9.4" rx="2.0" ry="2.0"/><rect x="765.2" y="233.9" width="27" height="9.4" rx="2.0" ry="2.0"/><rect x="793.9" y="233.9" width="27" height="9.4" rx="2.0" ry="2.0"/><rect x="822.6" y="233.9" width="27" height="9.4" rx="2.0" ry="2.0"/><rect x="851.3" y="233.9" width="27" height="9.4" rx="2.0" ry="2.0"/><rect x="750.85" y="244.9" width="27" height="9.4" rx="2.0" ry="2.0"/><rect x="779.55" y="244.9" width="27" height="9.4" rx="2.0" ry="2.0"/><rect x="808.25" y="244.9" width="27" height="9.4" rx="2.0" ry="2.0"/><rect x="836.95" y="244.9" width="27" height="9.4" rx="2.0" ry="2.0"/><rect x="736.5" y="255.9" width="27" height="9.4" rx="2.0" ry="2.0"/><rect x="765.2" y="255.9" width="27" height="9.4" rx="2.0" ry="2.0"/><rect x="793.9" y="255.9" width="27" height="9.4" rx="2.0" ry="2.0"/><rect x="822.6" y="255.9" width="27" height="9.4" rx="2.0" ry="2.0"/><rect x="851.3" y="255.9" width="27" height="9.4" rx="2.0" ry="2.0"/></g></g>
<path d="M779.2 222 H835.4 V246 C830.4 248.5 824.4 251.5 817.4 250.6 C808.4 249.6 803.4 244 795.4 243.4 C789.4 243 784.4 245.5 779.2 247.6 Z" fill="none" stroke="#3a3a3a" stroke-width="0.9"/>
<path d="M779 222 V148 C779.6 144 784 139.4 790.5 138.4 C802 137 812 150.5 824 149.4 C829 148.8 832.5 146.6 835.4 144.2 V222 Z" fill="#fff"/>
<g clip-path="url(#c16)" stroke="#505050" stroke-width="0.78" stroke-dasharray="6.8 2.4 1.1 2.4" fill="none"><line x1="741.31" y1="223" x2="781.88" y2="136" stroke-dashoffset="11.19"/><line x1="746.5" y1="223" x2="787.07" y2="136" stroke-dashoffset="6.14"/><line x1="751.68" y1="223" x2="792.25" y2="136" stroke-dashoffset="9.89"/><line x1="756.87" y1="223" x2="797.44" y2="136" stroke-dashoffset="4.84"/><line x1="762.05" y1="223" x2="802.62" y2="136" stroke-dashoffset="12.49"/><line x1="767.24" y1="223" x2="807.81" y2="136" stroke-dashoffset="3.54"/><line x1="772.43" y1="223" x2="813" y2="136" stroke-dashoffset="11.19"/><line x1="777.61" y1="223" x2="818.18" y2="136" stroke-dashoffset="6.14"/><line x1="782.8" y1="223" x2="823.37" y2="136" stroke-dashoffset="9.89"/><line x1="787.98" y1="223" x2="828.55" y2="136" stroke-dashoffset="4.84"/><line x1="793.17" y1="223" x2="833.74" y2="136" stroke-dashoffset="12.49"/><line x1="798.36" y1="223" x2="838.92" y2="136" stroke-dashoffset="3.54"/><line x1="803.54" y1="223" x2="844.11" y2="136" stroke-dashoffset="11.19"/><line x1="808.73" y1="223" x2="849.3" y2="136" stroke-dashoffset="6.14"/><line x1="813.91" y1="223" x2="854.48" y2="136" stroke-dashoffset="9.89"/><line x1="819.1" y1="223" x2="859.67" y2="136" stroke-dashoffset="4.84"/><line x1="824.29" y1="223" x2="864.85" y2="136" stroke-dashoffset="12.49"/><line x1="829.47" y1="223" x2="870.04" y2="136" stroke-dashoffset="3.54"/><line x1="834.66" y1="223" x2="875.23" y2="136" stroke-dashoffset="11.19"/></g>
<path d="M779 222 V148 C779.6 144 784 139.4 790.5 138.4 C802 137 812 150.5 824 149.4 C829 148.8 832.5 146.6 835.4 144.2 V222 Z" fill="none" stroke="#444" stroke-width="0.8"/>
<path d="M695.2 102 H779 V112.6 H759.6 V107.6 H695.2 Z" fill="url(#xh)" stroke="#222" stroke-width="0.8"/>
<path d="M695.2 190 C703 189.6 712 184 722 180.8 C730 178.4 740 178.4 748 180.4 C756 182.4 762 181.4 766 175 C771 166 774.6 154 779 145 V222 H695.2 Z" fill="url(#xh)" stroke="#222" stroke-width="0.8"/>
<line x1="696" y1="107.6" x2="696" y2="190" stroke="#1c1c1c" stroke-width="1.3" />
<line x1="759.6" y1="107.6" x2="759.6" y2="182.6" stroke="#1c1c1c" stroke-width="1.3" />
<line x1="695.4" y1="107.7" x2="760.2" y2="107.7" stroke="#1c1c1c" stroke-width="1.0" />
<rect x="728.9" y="107.8" width="1.8" height="74" fill="#8e8e8e" stroke="none" stroke-width="0" rx="0"/>
<line x1="727.3" y1="107.8" x2="727.3" y2="181.8" stroke="#1c1c1c" stroke-width="1.1" />
<circle cx="702.5" cy="111" r="0.9" fill="#1c1c1c"/>
<circle cx="717.9" cy="111" r="0.9" fill="#1c1c1c"/>
<circle cx="724" cy="111" r="0.9" fill="#1c1c1c"/>
<circle cx="732.8" cy="111" r="0.9" fill="#1c1c1c"/>
<circle cx="744" cy="111" r="0.9" fill="#1c1c1c"/>
<circle cx="752.1" cy="111" r="0.9" fill="#1c1c1c"/>
<circle cx="737.5" cy="118.3" r="0.9" fill="#1c1c1c"/>
<circle cx="724" cy="138.2" r="0.9" fill="#1c1c1c"/>
<g transform="translate(0 0)">
<rect x="714.2" y="154.7" width="4.6" height="2" fill="#1c1c1c" stroke="none" stroke-width="0" rx="0"/>
<rect x="714.2" y="168.2" width="4.6" height="2" fill="#1c1c1c" stroke="none" stroke-width="0" rx="0"/>
<path d="M713.0 156.0 H720.4 V169.0 H713.0 Z" fill="#fff" stroke="#1c1c1c" stroke-width="0.9"/>
<path d="M720.4 157.2 H727.6 V167.8 H720.4 Z" fill="#fff" stroke="#1c1c1c" stroke-width="0.9"/>
<rect x="734.6" y="154.6" width="7" height="2" fill="#1c1c1c" stroke="none" stroke-width="0" rx="0"/>
<rect x="734.6" y="168.2" width="7" height="2" fill="#1c1c1c" stroke="none" stroke-width="0" rx="0"/>
<path d="M727.6 156.4 H741.6 Q743.4 156.4 743.4 158.2 V166.6 Q743.4 168.4 741.6 168.4 H727.6 Z" fill="#fff" stroke="#1c1c1c" stroke-width="0.9"/>
<circle cx="722.8" cy="162.6" r="0.75" fill="#1c1c1c"/>
<circle cx="726.4" cy="164.6" r="0.75" fill="#1c1c1c"/>
<line x1="720.6" y1="164.6" x2="726.4" y2="164.6" stroke="#1c1c1c" stroke-width="0.6" />
</g>
<path d="M759.6 112.7 H883.4 C890 122 894.6 132 893.4 142 C891.2 157 871.8 170 874.8 188 C876.2 197 879.6 205 883 211.6 H835.4" fill="none" stroke="#1c1c1c" stroke-width="1.1"/>
<rect x="702.85" y="116.05" width="17.1" height="17.3" fill="#fcfeff" stroke="#97d0ef" stroke-width="0.85"/>
<text x="711.4" y="131.14" font-size="18" fill="#1b86c9" text-anchor="middle">4</text>
<rect x="859.05" y="117.25" width="17.1" height="17.3" fill="#fcfeff" stroke="#97d0ef" stroke-width="0.85"/>
<text x="867.6" y="132.34" font-size="18" fill="#1b86c9" text-anchor="middle">2</text>
<rect x="702.85" y="201.45" width="17.1" height="17.3" fill="#fcfeff" stroke="#97d0ef" stroke-width="0.85"/>
<text x="711.4" y="216.54" font-size="18" fill="#1b86c9" text-anchor="middle">3</text>
<rect x="816.25" y="201.45" width="17.1" height="17.3" fill="#fcfeff" stroke="#97d0ef" stroke-width="0.85"/>
<text x="824.8" y="216.54" font-size="18" fill="#1b86c9" text-anchor="middle">5</text>
<rect x="816.25" y="225.35" width="17.1" height="17.3" fill="#fcfeff" stroke="#97d0ef" stroke-width="0.85"/>
<text x="824.8" y="240.44" font-size="18" fill="#1b86c9" text-anchor="middle">1</text>
<rect x="746" y="227" width="21.4" height="21.4" fill="#1d98d6"/>
<text x="756.7" y="245.16" font-size="21" fill="#fff" stroke="#fff" stroke-width="0.3" text-anchor="middle">Б</text>
<rect x="844.3" y="227" width="21.4" height="21.4" fill="#e20a17"/>
<text x="855" y="245.16" font-size="21" fill="#fff" stroke="#fff" stroke-width="0.3" text-anchor="middle">A</text>
<g fill="#fff" stroke="#666" stroke-width="1.2"><g clip-path="url(#c17)"><rect x="-40.2" y="415.65" width="28.9" height="9.25" rx="2.4" ry="2.4"/><rect x="-9.3" y="415.65" width="28.9" height="9.25" rx="2.4" ry="2.4"/><rect x="21.6" y="415.65" width="28.9" height="9.25" rx="2.4" ry="2.4"/><rect x="52.5" y="415.65" width="28.9" height="9.25" rx="2.4" ry="2.4"/><rect x="83.4" y="415.65" width="28.9" height="9.25" rx="2.4" ry="2.4"/><rect x="-55.65" y="426.6" width="28.9" height="9.25" rx="2.4" ry="2.4"/><rect x="-24.75" y="426.6" width="28.9" height="9.25" rx="2.4" ry="2.4"/><rect x="6.15" y="426.6" width="28.9" height="9.25" rx="2.4" ry="2.4"/><rect x="37.05" y="426.6" width="28.9" height="9.25" rx="2.4" ry="2.4"/><rect x="67.95" y="426.6" width="28.9" height="9.25" rx="2.4" ry="2.4"/><rect x="-40.2" y="437.55" width="28.9" height="9.25" rx="2.4" ry="2.4"/><rect x="-9.3" y="437.55" width="28.9" height="9.25" rx="2.4" ry="2.4"/><rect x="21.6" y="437.55" width="28.9" height="9.25" rx="2.4" ry="2.4"/><rect x="52.5" y="437.55" width="28.9" height="9.25" rx="2.4" ry="2.4"/><rect x="83.4" y="437.55" width="28.9" height="9.25" rx="2.4" ry="2.4"/><rect x="-55.65" y="448.5" width="28.9" height="9.25" rx="2.4" ry="2.4"/><rect x="-24.75" y="448.5" width="28.9" height="9.25" rx="2.4" ry="2.4"/><rect x="6.15" y="448.5" width="28.9" height="9.25" rx="2.4" ry="2.4"/><rect x="37.05" y="448.5" width="28.9" height="9.25" rx="2.4" ry="2.4"/><rect x="67.95" y="448.5" width="28.9" height="9.25" rx="2.4" ry="2.4"/><rect x="-40.2" y="459.45" width="28.9" height="9.25" rx="2.4" ry="2.4"/><rect x="-9.3" y="459.45" width="28.9" height="9.25" rx="2.4" ry="2.4"/><rect x="21.6" y="459.45" width="28.9" height="9.25" rx="2.4" ry="2.4"/><rect x="52.5" y="459.45" width="28.9" height="9.25" rx="2.4" ry="2.4"/><rect x="83.4" y="459.45" width="28.9" height="9.25" rx="2.4" ry="2.4"/><rect x="-55.65" y="470.4" width="28.9" height="9.25" rx="2.4" ry="2.4"/><rect x="-24.75" y="470.4" width="28.9" height="9.25" rx="2.4" ry="2.4"/><rect x="6.15" y="470.4" width="28.9" height="9.25" rx="2.4" ry="2.4"/><rect x="37.05" y="470.4" width="28.9" height="9.25" rx="2.4" ry="2.4"/><rect x="67.95" y="470.4" width="28.9" height="9.25" rx="2.4" ry="2.4"/><rect x="-40.2" y="481.35" width="28.9" height="9.25" rx="2.4" ry="2.4"/><rect x="-9.3" y="481.35" width="28.9" height="9.25" rx="2.4" ry="2.4"/><rect x="21.6" y="481.35" width="28.9" height="9.25" rx="2.4" ry="2.4"/><rect x="52.5" y="481.35" width="28.9" height="9.25" rx="2.4" ry="2.4"/><rect x="83.4" y="481.35" width="28.9" height="9.25" rx="2.4" ry="2.4"/><rect x="-55.65" y="492.3" width="28.9" height="9.25" rx="2.4" ry="2.4"/><rect x="-24.75" y="492.3" width="28.9" height="9.25" rx="2.4" ry="2.4"/><rect x="6.15" y="492.3" width="28.9" height="9.25" rx="2.4" ry="2.4"/><rect x="37.05" y="492.3" width="28.9" height="9.25" rx="2.4" ry="2.4"/><rect x="67.95" y="492.3" width="28.9" height="9.25" rx="2.4" ry="2.4"/></g></g>
<path d="M65 436.1 H11.8 C13.4 439 15.6 442 15.2 446 C14.4 452 6.4 459 6 467 C5.8 472 9 478 11.8 481.6 H65 Z" fill="none" stroke="#3a3a3a" stroke-width="1.1"/>
<g fill="#fff" stroke="#666" stroke-width="1.2"><g clip-path="url(#c18)"><rect x="130.7" y="415.65" width="28.9" height="9.25" rx="2.4" ry="2.4"/><rect x="161.6" y="415.65" width="28.9" height="9.25" rx="2.4" ry="2.4"/><rect x="192.5" y="415.65" width="28.9" height="9.25" rx="2.4" ry="2.4"/><rect x="223.4" y="415.65" width="28.9" height="9.25" rx="2.4" ry="2.4"/><rect x="254.3" y="415.65" width="28.9" height="9.25" rx="2.4" ry="2.4"/><rect x="146.15" y="426.6" width="28.9" height="9.25" rx="2.4" ry="2.4"/><rect x="177.05" y="426.6" width="28.9" height="9.25" rx="2.4" ry="2.4"/><rect x="207.95" y="426.6" width="28.9" height="9.25" rx="2.4" ry="2.4"/><rect x="238.85" y="426.6" width="28.9" height="9.25" rx="2.4" ry="2.4"/><rect x="269.75" y="426.6" width="28.9" height="9.25" rx="2.4" ry="2.4"/><rect x="130.7" y="437.55" width="28.9" height="9.25" rx="2.4" ry="2.4"/><rect x="161.6" y="437.55" width="28.9" height="9.25" rx="2.4" ry="2.4"/><rect x="192.5" y="437.55" width="28.9" height="9.25" rx="2.4" ry="2.4"/><rect x="223.4" y="437.55" width="28.9" height="9.25" rx="2.4" ry="2.4"/><rect x="254.3" y="437.55" width="28.9" height="9.25" rx="2.4" ry="2.4"/><rect x="146.15" y="448.5" width="28.9" height="9.25" rx="2.4" ry="2.4"/><rect x="177.05" y="448.5" width="28.9" height="9.25" rx="2.4" ry="2.4"/><rect x="207.95" y="448.5" width="28.9" height="9.25" rx="2.4" ry="2.4"/><rect x="238.85" y="448.5" width="28.9" height="9.25" rx="2.4" ry="2.4"/><rect x="269.75" y="448.5" width="28.9" height="9.25" rx="2.4" ry="2.4"/><rect x="130.7" y="459.45" width="28.9" height="9.25" rx="2.4" ry="2.4"/><rect x="161.6" y="459.45" width="28.9" height="9.25" rx="2.4" ry="2.4"/><rect x="192.5" y="459.45" width="28.9" height="9.25" rx="2.4" ry="2.4"/><rect x="223.4" y="459.45" width="28.9" height="9.25" rx="2.4" ry="2.4"/><rect x="254.3" y="459.45" width="28.9" height="9.25" rx="2.4" ry="2.4"/><rect x="146.15" y="470.4" width="28.9" height="9.25" rx="2.4" ry="2.4"/><rect x="177.05" y="470.4" width="28.9" height="9.25" rx="2.4" ry="2.4"/><rect x="207.95" y="470.4" width="28.9" height="9.25" rx="2.4" ry="2.4"/><rect x="238.85" y="470.4" width="28.9" height="9.25" rx="2.4" ry="2.4"/><rect x="269.75" y="470.4" width="28.9" height="9.25" rx="2.4" ry="2.4"/><rect x="130.7" y="481.35" width="28.9" height="9.25" rx="2.4" ry="2.4"/><rect x="161.6" y="481.35" width="28.9" height="9.25" rx="2.4" ry="2.4"/><rect x="192.5" y="481.35" width="28.9" height="9.25" rx="2.4" ry="2.4"/><rect x="223.4" y="481.35" width="28.9" height="9.25" rx="2.4" ry="2.4"/><rect x="254.3" y="481.35" width="28.9" height="9.25" rx="2.4" ry="2.4"/><rect x="146.15" y="492.3" width="28.9" height="9.25" rx="2.4" ry="2.4"/><rect x="177.05" y="492.3" width="28.9" height="9.25" rx="2.4" ry="2.4"/><rect x="207.95" y="492.3" width="28.9" height="9.25" rx="2.4" ry="2.4"/><rect x="238.85" y="492.3" width="28.9" height="9.25" rx="2.4" ry="2.4"/><rect x="269.75" y="492.3" width="28.9" height="9.25" rx="2.4" ry="2.4"/></g></g>
<path d="M189.2 436.1 H246.4 C249.4 439 251.2 443 250.8 448 C250 455 242.2 463 241.6 471 C241.4 475 243.4 479 245.6 481.6 H189.2 Z" fill="none" stroke="#3a3a3a" stroke-width="1.1"/>
<line x1="191.8" y1="436.4" x2="191.8" y2="481.4" stroke="#333" stroke-width="1.3" stroke-dasharray="9 1.4"/>
<path d="M75.2 436 V383.3 C82.2 385.4 89.2 387.6 97.2 386.8 C115.2 385.6 127.2 379.6 143.2 379 C153.2 378.6 161.2 380.6 166.9 383.4 V510.8" fill="none" stroke="#1c1c1c" stroke-width="1.2"/>
<line x1="68.6" y1="401.9" x2="174.2" y2="401.9" stroke="#1c1c1c" stroke-width="1.8" />
<path d="M69 400.2 q2 -1.3 4 0 l-0.3 2.9 l-1.1 3.1 h-1.2 l-1.1 -3.1 z" fill="#1c1c1c"/>
<path d="M101.3 400.2 q2 -1.3 4 0 l-0.3 2.9 l-1.1 3.1 h-1.2 l-1.1 -3.1 z" fill="#1c1c1c"/>
<path d="M139.2 400.2 q2 -1.3 4 0 l-0.3 2.9 l-1.1 3.1 h-1.2 l-1.1 -3.1 z" fill="#1c1c1c"/>
<path d="M169.4 400.2 q2 -1.3 4 0 l-0.3 2.9 l-1.1 3.1 h-1.2 l-1.1 -3.1 z" fill="#1c1c1c"/>
<rect x="75.2" y="410.1" width="91.7" height="2.5" fill="#b4b4b4" stroke="none" stroke-width="0" rx="0"/>
<line x1="75.2" y1="410.1" x2="166.9" y2="410.1" stroke="#555" stroke-width="0.9" />
<line x1="75.2" y1="412.6" x2="166.9" y2="412.6" stroke="#2a2a2a" stroke-width="0.9" />
<line x1="121" y1="402" x2="121" y2="435.8" stroke="#3a3a3a" stroke-width="1.7" />
<path d="M75.2 435.8 v-3.4 l-2.8 3.4 z" fill="#1c1c1c"/>
<rect x="132" y="455.5" width="36.2" height="2.7" fill="#b4b4b4" stroke="none" stroke-width="0" rx="0"/>
<line x1="132" y1="455.5" x2="168.2" y2="455.5" stroke="#555" stroke-width="0.9" />
<line x1="132" y1="458.2" x2="168.2" y2="458.2" stroke="#2a2a2a" stroke-width="0.9" />
<line x1="129" y1="466.2" x2="174.4" y2="466.2" stroke="#1c1c1c" stroke-width="1.8" />
<path d="M139.2 467.9 q2 1.3 4 0 l-0.3 -2.9 l-1.1 -3.1 h-1.2 l-1.1 3.1 z" fill="#1c1c1c"/>
<path d="M168.6 467.9 q2 1.3 4 0 l-0.3 -2.9 l-1.1 -3.1 h-1.2 l-1.1 3.1 z" fill="#1c1c1c"/>
<path d="M65 436.1 H150.8 C145 444 138.6 452 135.2 457 C131.4 464 129.2 473 128.2 481.6 H65 Z" fill="#fff"/>
<g clip-path="url(#c19)" stroke="#5c5c5c" stroke-width="0.8" stroke-dasharray="6.8 2.6 1.2 2.6" fill="none"><line x1="44.63" y1="482.6" x2="66.78" y2="435.1" stroke-dashoffset="2.2"/><line x1="50.36" y1="482.6" x2="72.51" y2="435.1" stroke-dashoffset="6.2"/><line x1="56.1" y1="482.6" x2="78.25" y2="435.1" stroke-dashoffset="0.9"/><line x1="61.84" y1="482.6" x2="83.99" y2="435.1" stroke-dashoffset="8.8"/><line x1="67.58" y1="482.6" x2="89.73" y2="435.1" stroke-dashoffset="12.8"/><line x1="73.31" y1="482.6" x2="95.46" y2="435.1" stroke-dashoffset="7.5"/><line x1="79.05" y1="482.6" x2="101.2" y2="435.1" stroke-dashoffset="2.2"/><line x1="84.79" y1="482.6" x2="106.94" y2="435.1" stroke-dashoffset="6.2"/><line x1="90.53" y1="482.6" x2="112.68" y2="435.1" stroke-dashoffset="0.9"/><line x1="96.26" y1="482.6" x2="118.41" y2="435.1" stroke-dashoffset="8.8"/><line x1="102" y1="482.6" x2="124.15" y2="435.1" stroke-dashoffset="12.8"/><line x1="107.74" y1="482.6" x2="129.89" y2="435.1" stroke-dashoffset="7.5"/><line x1="113.48" y1="482.6" x2="135.63" y2="435.1" stroke-dashoffset="2.2"/><line x1="119.21" y1="482.6" x2="141.36" y2="435.1" stroke-dashoffset="6.2"/><line x1="124.95" y1="482.6" x2="147.1" y2="435.1" stroke-dashoffset="0.9"/><line x1="130.69" y1="482.6" x2="152.84" y2="435.1" stroke-dashoffset="8.8"/><line x1="136.43" y1="482.6" x2="158.58" y2="435.1" stroke-dashoffset="12.8"/><line x1="142.16" y1="482.6" x2="164.31" y2="435.1" stroke-dashoffset="7.5"/><line x1="147.9" y1="482.6" x2="170.05" y2="435.1" stroke-dashoffset="2.2"/></g>
<path d="M65 436.1 H150.8 C145 444 138.6 452 135.2 457 C131.4 464 129.2 473 128.2 481.6 H65 Z" fill="none" stroke="#444" stroke-width="0.7"/>
<path d="M174.3 460 H191.4 V481.6 H174.3 Z" fill="#fff"/>
<g clip-path="url(#c20)" stroke="#5c5c5c" stroke-width="0.8" stroke-dasharray="6.8 2.6 1.2 2.6" fill="none"><line x1="165.11" y1="482.6" x2="176.12" y2="459" stroke-dashoffset="8.8"/><line x1="170.85" y1="482.6" x2="181.86" y2="459" stroke-dashoffset="12.8"/><line x1="176.59" y1="482.6" x2="187.59" y2="459" stroke-dashoffset="7.5"/><line x1="182.33" y1="482.6" x2="193.33" y2="459" stroke-dashoffset="2.2"/><line x1="188.06" y1="482.6" x2="199.07" y2="459" stroke-dashoffset="6.2"/></g>
<path d="M174.3 460 H191.4 V481.6 H174.3 Z" fill="none" stroke="#444" stroke-width="0.8"/>
<g transform="translate(0 0)">
<rect x="170.1" y="414.8" width="14" height="16.4" fill="#fff" stroke="#222" stroke-width="1.2" rx="0"/>
<line x1="172.6" y1="416" x2="172.6" y2="431" stroke="#666" stroke-width="0.8" />
<line x1="181.8" y1="416" x2="181.8" y2="431" stroke="#666" stroke-width="0.8" />
<rect x="169.4" y="413.9" width="2.6" height="1.8" fill="#1c1c1c" stroke="none" stroke-width="0" rx="0"/>
<rect x="177.3" y="413.4" width="2.4" height="1.8" fill="#1c1c1c" stroke="none" stroke-width="0" rx="0"/>
<rect x="182.6" y="413.9" width="2.4" height="1.8" fill="#1c1c1c" stroke="none" stroke-width="0" rx="0"/>
<rect x="168.4" y="431.2" width="18.6" height="22.2" fill="#fff" stroke="#333" stroke-width="1.0" rx="0"/>
<line x1="168.6" y1="431.2" x2="168.6" y2="453.4" stroke="#1c1c1c" stroke-width="1.8" />
<circle cx="169.6" cy="433.4" r="0.8" fill="#1c1c1c"/>
<circle cx="169.6" cy="447.6" r="0.8" fill="#1c1c1c"/>
<rect x="168.4" y="453.4" width="19.4" height="4.6" fill="#fff" stroke="#333" stroke-width="0.9" rx="0"/>
<line x1="187.8" y1="426.6" x2="187.8" y2="458" stroke="#333" stroke-width="0.8" />
</g>
<line x1="192.2" y1="436.6" x2="187" y2="458.4" stroke="#444" stroke-width="0.7" />
<path d="M75.2 482 V511.2 C83.2 508.6 91.2 508.4 99.2 510 C115.2 512.8 127.2 517.4 139.2 516.6 C151.2 515.8 159.2 513.4 166.9 510.8" fill="none" stroke="#1c1c1c" stroke-width="1.2"/>
<rect x="134.95" y="374.25" width="18.3" height="18.1" fill="#fcfeff" stroke="#97d0ef" stroke-width="0.85"/>
<text x="144.1" y="390.17" font-size="19.2" fill="#1b86c9" text-anchor="middle">2</text>
<rect x="134.95" y="415.55" width="18.3" height="18.1" fill="#fcfeff" stroke="#97d0ef" stroke-width="0.85"/>
<text x="144.1" y="431.47" font-size="19.2" fill="#1b86c9" text-anchor="middle">4</text>
<rect x="32.85" y="449.25" width="18.3" height="18.1" fill="#fcfeff" stroke="#97d0ef" stroke-width="0.85"/>
<text x="42" y="465.17" font-size="19.2" fill="#1b86c9" text-anchor="middle">1</text>
<rect x="78.45" y="449.35" width="18.3" height="18.1" fill="#fcfeff" stroke="#97d0ef" stroke-width="0.85"/>
<text x="87.6" y="465.27" font-size="19.2" fill="#1b86c9" text-anchor="middle">5</text>
<rect x="134.95" y="488.45" width="18.3" height="18.1" fill="#fcfeff" stroke="#97d0ef" stroke-width="0.85"/>
<text x="144.1" y="504.37" font-size="19.2" fill="#1b86c9" text-anchor="middle">2</text>
<rect x="192.5" y="405.4" width="22.4" height="22.4" fill="#1d98d6"/>
<text x="203.7" y="424.41" font-size="22" fill="#fff" stroke="#fff" stroke-width="0.3" text-anchor="middle">Б</text>
<rect x="192.5" y="491.4" width="22.4" height="22.4" fill="#e20a17"/>
<text x="203.7" y="510.41" font-size="22" fill="#fff" stroke="#fff" stroke-width="0.3" text-anchor="middle">A</text>
<g fill="#fff" stroke="#666" stroke-width="1.2"><g clip-path="url(#c21)"><rect x="278.8" y="415.65" width="28.9" height="9.25" rx="2.4" ry="2.4"/><rect x="309.7" y="415.65" width="28.9" height="9.25" rx="2.4" ry="2.4"/><rect x="340.6" y="415.65" width="28.9" height="9.25" rx="2.4" ry="2.4"/><rect x="371.5" y="415.65" width="28.9" height="9.25" rx="2.4" ry="2.4"/><rect x="402.4" y="415.65" width="28.9" height="9.25" rx="2.4" ry="2.4"/><rect x="263.35" y="426.6" width="28.9" height="9.25" rx="2.4" ry="2.4"/><rect x="294.25" y="426.6" width="28.9" height="9.25" rx="2.4" ry="2.4"/><rect x="325.15" y="426.6" width="28.9" height="9.25" rx="2.4" ry="2.4"/><rect x="356.05" y="426.6" width="28.9" height="9.25" rx="2.4" ry="2.4"/><rect x="386.95" y="426.6" width="28.9" height="9.25" rx="2.4" ry="2.4"/><rect x="278.8" y="437.55" width="28.9" height="9.25" rx="2.4" ry="2.4"/><rect x="309.7" y="437.55" width="28.9" height="9.25" rx="2.4" ry="2.4"/><rect x="340.6" y="437.55" width="28.9" height="9.25" rx="2.4" ry="2.4"/><rect x="371.5" y="437.55" width="28.9" height="9.25" rx="2.4" ry="2.4"/><rect x="402.4" y="437.55" width="28.9" height="9.25" rx="2.4" ry="2.4"/><rect x="263.35" y="448.5" width="28.9" height="9.25" rx="2.4" ry="2.4"/><rect x="294.25" y="448.5" width="28.9" height="9.25" rx="2.4" ry="2.4"/><rect x="325.15" y="448.5" width="28.9" height="9.25" rx="2.4" ry="2.4"/><rect x="356.05" y="448.5" width="28.9" height="9.25" rx="2.4" ry="2.4"/><rect x="386.95" y="448.5" width="28.9" height="9.25" rx="2.4" ry="2.4"/><rect x="278.8" y="459.45" width="28.9" height="9.25" rx="2.4" ry="2.4"/><rect x="309.7" y="459.45" width="28.9" height="9.25" rx="2.4" ry="2.4"/><rect x="340.6" y="459.45" width="28.9" height="9.25" rx="2.4" ry="2.4"/><rect x="371.5" y="459.45" width="28.9" height="9.25" rx="2.4" ry="2.4"/><rect x="402.4" y="459.45" width="28.9" height="9.25" rx="2.4" ry="2.4"/><rect x="263.35" y="470.4" width="28.9" height="9.25" rx="2.4" ry="2.4"/><rect x="294.25" y="470.4" width="28.9" height="9.25" rx="2.4" ry="2.4"/><rect x="325.15" y="470.4" width="28.9" height="9.25" rx="2.4" ry="2.4"/><rect x="356.05" y="470.4" width="28.9" height="9.25" rx="2.4" ry="2.4"/><rect x="386.95" y="470.4" width="28.9" height="9.25" rx="2.4" ry="2.4"/><rect x="278.8" y="481.35" width="28.9" height="9.25" rx="2.4" ry="2.4"/><rect x="309.7" y="481.35" width="28.9" height="9.25" rx="2.4" ry="2.4"/><rect x="340.6" y="481.35" width="28.9" height="9.25" rx="2.4" ry="2.4"/><rect x="371.5" y="481.35" width="28.9" height="9.25" rx="2.4" ry="2.4"/><rect x="402.4" y="481.35" width="28.9" height="9.25" rx="2.4" ry="2.4"/><rect x="263.35" y="492.3" width="28.9" height="9.25" rx="2.4" ry="2.4"/><rect x="294.25" y="492.3" width="28.9" height="9.25" rx="2.4" ry="2.4"/><rect x="325.15" y="492.3" width="28.9" height="9.25" rx="2.4" ry="2.4"/><rect x="356.05" y="492.3" width="28.9" height="9.25" rx="2.4" ry="2.4"/><rect x="386.95" y="492.3" width="28.9" height="9.25" rx="2.4" ry="2.4"/></g></g>
<path d="M384 436.1 H330.8 C332.4 439 334.6 442 334.2 446 C333.4 452 325.4 459 325 467 C324.8 472 328 478 330.8 481.6 H384 Z" fill="none" stroke="#3a3a3a" stroke-width="1.1"/>
<g fill="#fff" stroke="#666" stroke-width="1.2"><g clip-path="url(#c22)"><rect x="449.7" y="415.65" width="28.9" height="9.25" rx="2.4" ry="2.4"/><rect x="480.6" y="415.65" width="28.9" height="9.25" rx="2.4" ry="2.4"/><rect x="511.5" y="415.65" width="28.9" height="9.25" rx="2.4" ry="2.4"/><rect x="542.4" y="415.65" width="28.9" height="9.25" rx="2.4" ry="2.4"/><rect x="573.3" y="415.65" width="28.9" height="9.25" rx="2.4" ry="2.4"/><rect x="465.15" y="426.6" width="28.9" height="9.25" rx="2.4" ry="2.4"/><rect x="496.05" y="426.6" width="28.9" height="9.25" rx="2.4" ry="2.4"/><rect x="526.95" y="426.6" width="28.9" height="9.25" rx="2.4" ry="2.4"/><rect x="557.85" y="426.6" width="28.9" height="9.25" rx="2.4" ry="2.4"/><rect x="588.75" y="426.6" width="28.9" height="9.25" rx="2.4" ry="2.4"/><rect x="449.7" y="437.55" width="28.9" height="9.25" rx="2.4" ry="2.4"/><rect x="480.6" y="437.55" width="28.9" height="9.25" rx="2.4" ry="2.4"/><rect x="511.5" y="437.55" width="28.9" height="9.25" rx="2.4" ry="2.4"/><rect x="542.4" y="437.55" width="28.9" height="9.25" rx="2.4" ry="2.4"/><rect x="573.3" y="437.55" width="28.9" height="9.25" rx="2.4" ry="2.4"/><rect x="465.15" y="448.5" width="28.9" height="9.25" rx="2.4" ry="2.4"/><rect x="496.05" y="448.5" width="28.9" height="9.25" rx="2.4" ry="2.4"/><rect x="526.95" y="448.5" width="28.9" height="9.25" rx="2.4" ry="2.4"/><rect x="557.85" y="448.5" width="28.9" height="9.25" rx="2.4" ry="2.4"/><rect x="588.75" y="448.5" width="28.9" height="9.25" rx="2.4" ry="2.4"/><rect x="449.7" y="459.45" width="28.9" height="9.25" rx="2.4" ry="2.4"/><rect x="480.6" y="459.45" width="28.9" height="9.25" rx="2.4" ry="2.4"/><rect x="511.5" y="459.45" width="28.9" height="9.25" rx="2.4" ry="2.4"/><rect x="542.4" y="459.45" width="28.9" height="9.25" rx="2.4" ry="2.4"/><rect x="573.3" y="459.45" width="28.9" height="9.25" rx="2.4" ry="2.4"/><rect x="465.15" y="470.4" width="28.9" height="9.25" rx="2.4" ry="2.4"/><rect x="496.05" y="470.4" width="28.9" height="9.25" rx="2.4" ry="2.4"/><rect x="526.95" y="470.4" width="28.9" height="9.25" rx="2.4" ry="2.4"/><rect x="557.85" y="470.4" width="28.9" height="9.25" rx="2.4" ry="2.4"/><rect x="588.75" y="470.4" width="28.9" height="9.25" rx="2.4" ry="2.4"/><rect x="449.7" y="481.35" width="28.9" height="9.25" rx="2.4" ry="2.4"/><rect x="480.6" y="481.35" width="28.9" height="9.25" rx="2.4" ry="2.4"/><rect x="511.5" y="481.35" width="28.9" height="9.25" rx="2.4" ry="2.4"/><rect x="542.4" y="481.35" width="28.9" height="9.25" rx="2.4" ry="2.4"/><rect x="573.3" y="481.35" width="28.9" height="9.25" rx="2.4" ry="2.4"/><rect x="465.15" y="492.3" width="28.9" height="9.25" rx="2.4" ry="2.4"/><rect x="496.05" y="492.3" width="28.9" height="9.25" rx="2.4" ry="2.4"/><rect x="526.95" y="492.3" width="28.9" height="9.25" rx="2.4" ry="2.4"/><rect x="557.85" y="492.3" width="28.9" height="9.25" rx="2.4" ry="2.4"/><rect x="588.75" y="492.3" width="28.9" height="9.25" rx="2.4" ry="2.4"/></g></g>
<path d="M508.2 436.1 H565.4 C568.4 439 570.2 443 569.8 448 C569 455 561.2 463 560.6 471 C560.4 475 562.4 479 564.6 481.6 H508.2 Z" fill="none" stroke="#3a3a3a" stroke-width="1.1"/>
<line x1="510.8" y1="436.4" x2="510.8" y2="481.4" stroke="#333" stroke-width="1.3" stroke-dasharray="9 1.4"/>
<path d="M394.2 436 V383.3 C401.2 385.4 408.2 387.6 416.2 386.8 C434.2 385.6 446.2 379.6 462.2 379 C472.2 378.6 480.2 380.6 485.9 383.4 V465.8" fill="none" stroke="#1c1c1c" stroke-width="1.2"/>
<line x1="387.6" y1="401.9" x2="493.2" y2="401.9" stroke="#1c1c1c" stroke-width="1.8" />
<path d="M388 400.2 q2 -1.3 4 0 l-0.3 2.9 l-1.1 3.1 h-1.2 l-1.1 -3.1 z" fill="#1c1c1c"/>
<path d="M420.3 400.2 q2 -1.3 4 0 l-0.3 2.9 l-1.1 3.1 h-1.2 l-1.1 -3.1 z" fill="#1c1c1c"/>
<path d="M458.2 400.2 q2 -1.3 4 0 l-0.3 2.9 l-1.1 3.1 h-1.2 l-1.1 -3.1 z" fill="#1c1c1c"/>
<path d="M488.4 400.2 q2 -1.3 4 0 l-0.3 2.9 l-1.1 3.1 h-1.2 l-1.1 -3.1 z" fill="#1c1c1c"/>
<rect x="394.2" y="410.1" width="91.7" height="2.5" fill="#b4b4b4" stroke="none" stroke-width="0" rx="0"/>
<line x1="394.2" y1="410.1" x2="485.9" y2="410.1" stroke="#555" stroke-width="0.9" />
<line x1="394.2" y1="412.6" x2="485.9" y2="412.6" stroke="#2a2a2a" stroke-width="0.9" />
<line x1="440" y1="402" x2="440" y2="435.8" stroke="#3a3a3a" stroke-width="1.7" />
<path d="M394.2 435.8 v-3.4 l-2.8 3.4 z" fill="#1c1c1c"/>
<rect x="451" y="455.5" width="36.2" height="2.7" fill="#b4b4b4" stroke="none" stroke-width="0" rx="0"/>
<line x1="451" y1="455.5" x2="487.2" y2="455.5" stroke="#555" stroke-width="0.9" />
<line x1="451" y1="458.2" x2="487.2" y2="458.2" stroke="#2a2a2a" stroke-width="0.9" />
<line x1="448" y1="466" x2="493.4" y2="466" stroke="#1c1c1c" stroke-width="1.0" />
<path d="M384 436.1 H469.8 C464 444 457.6 452 454.2 457 C450.4 464 448.2 473 447.2 481.6 H384 Z" fill="#fff"/>
<g clip-path="url(#c23)" stroke="#5c5c5c" stroke-width="0.8" stroke-dasharray="6.8 2.6 1.2 2.6" fill="none"><line x1="365.93" y1="482.6" x2="388.08" y2="435.1" stroke-dashoffset="0.9"/><line x1="371.67" y1="482.6" x2="393.82" y2="435.1" stroke-dashoffset="8.8"/><line x1="377.4" y1="482.6" x2="399.55" y2="435.1" stroke-dashoffset="12.8"/><line x1="383.14" y1="482.6" x2="405.29" y2="435.1" stroke-dashoffset="7.5"/><line x1="388.88" y1="482.6" x2="411.03" y2="435.1" stroke-dashoffset="2.2"/><line x1="394.62" y1="482.6" x2="416.77" y2="435.1" stroke-dashoffset="6.2"/><line x1="400.35" y1="482.6" x2="422.5" y2="435.1" stroke-dashoffset="0.9"/><line x1="406.09" y1="482.6" x2="428.24" y2="435.1" stroke-dashoffset="8.8"/><line x1="411.83" y1="482.6" x2="433.98" y2="435.1" stroke-dashoffset="12.8"/><line x1="417.57" y1="482.6" x2="439.72" y2="435.1" stroke-dashoffset="7.5"/><line x1="423.3" y1="482.6" x2="445.45" y2="435.1" stroke-dashoffset="2.2"/><line x1="429.04" y1="482.6" x2="451.19" y2="435.1" stroke-dashoffset="6.2"/><line x1="434.78" y1="482.6" x2="456.93" y2="435.1" stroke-dashoffset="0.9"/><line x1="440.52" y1="482.6" x2="462.67" y2="435.1" stroke-dashoffset="8.8"/><line x1="446.26" y1="482.6" x2="468.4" y2="435.1" stroke-dashoffset="12.8"/><line x1="451.99" y1="482.6" x2="474.14" y2="435.1" stroke-dashoffset="7.5"/><line x1="457.73" y1="482.6" x2="479.88" y2="435.1" stroke-dashoffset="2.2"/><line x1="463.47" y1="482.6" x2="485.62" y2="435.1" stroke-dashoffset="6.2"/><line x1="469.21" y1="482.6" x2="491.35" y2="435.1" stroke-dashoffset="0.9"/></g>
<path d="M384 436.1 H469.8 C464 444 457.6 452 454.2 457 C450.4 464 448.2 473 447.2 481.6 H384 Z" fill="none" stroke="#444" stroke-width="0.7"/>
<path d="M493.3 460 H510.4 V481.6 H493.3 Z" fill="#fff"/>
<g clip-path="url(#c24)" stroke="#5c5c5c" stroke-width="0.8" stroke-dasharray="6.8 2.6 1.2 2.6" fill="none"><line x1="486.42" y1="482.6" x2="497.42" y2="459" stroke-dashoffset="7.5"/><line x1="492.16" y1="482.6" x2="503.16" y2="459" stroke-dashoffset="2.2"/><line x1="497.89" y1="482.6" x2="508.9" y2="459" stroke-dashoffset="6.2"/><line x1="503.63" y1="482.6" x2="514.64" y2="459" stroke-dashoffset="0.9"/><line x1="509.37" y1="482.6" x2="520.37" y2="459" stroke-dashoffset="8.8"/></g>
<path d="M493.3 460 H510.4 V481.6 H493.3 Z" fill="none" stroke="#444" stroke-width="0.8"/>
<g transform="translate(319 0)">
<rect x="170.1" y="414.8" width="14" height="16.4" fill="#fff" stroke="#222" stroke-width="1.2" rx="0"/>
<line x1="172.6" y1="416" x2="172.6" y2="431" stroke="#666" stroke-width="0.8" />
<line x1="181.8" y1="416" x2="181.8" y2="431" stroke="#666" stroke-width="0.8" />
<rect x="169.4" y="413.9" width="2.6" height="1.8" fill="#1c1c1c" stroke="none" stroke-width="0" rx="0"/>
<rect x="177.3" y="413.4" width="2.4" height="1.8" fill="#1c1c1c" stroke="none" stroke-width="0" rx="0"/>
<rect x="182.6" y="413.9" width="2.4" height="1.8" fill="#1c1c1c" stroke="none" stroke-width="0" rx="0"/>
<rect x="168.4" y="431.2" width="18.6" height="22.2" fill="#fff" stroke="#333" stroke-width="1.0" rx="0"/>
<line x1="168.6" y1="431.2" x2="168.6" y2="453.4" stroke="#1c1c1c" stroke-width="1.8" />
<circle cx="169.6" cy="433.4" r="0.8" fill="#1c1c1c"/>
<circle cx="169.6" cy="447.6" r="0.8" fill="#1c1c1c"/>
<rect x="168.4" y="453.4" width="19.4" height="4.6" fill="#fff" stroke="#333" stroke-width="0.9" rx="0"/>
<line x1="187.8" y1="426.6" x2="187.8" y2="458" stroke="#333" stroke-width="0.8" />
</g>
<line x1="511.2" y1="436.6" x2="506" y2="458.4" stroke="#444" stroke-width="0.7" />
<rect x="453.95" y="374.25" width="18.3" height="18.1" fill="#fcfeff" stroke="#97d0ef" stroke-width="0.85"/>
<text x="463.1" y="390.17" font-size="19.2" fill="#1b86c9" text-anchor="middle">2</text>
<rect x="453.95" y="415.55" width="18.3" height="18.1" fill="#fcfeff" stroke="#97d0ef" stroke-width="0.85"/>
<text x="463.1" y="431.47" font-size="19.2" fill="#1b86c9" text-anchor="middle">4</text>
<rect x="351.85" y="449.25" width="18.3" height="18.1" fill="#fcfeff" stroke="#97d0ef" stroke-width="0.85"/>
<text x="361" y="465.17" font-size="19.2" fill="#1b86c9" text-anchor="middle">1</text>
<rect x="397.45" y="449.35" width="18.3" height="18.1" fill="#fcfeff" stroke="#97d0ef" stroke-width="0.85"/>
<text x="406.6" y="465.27" font-size="19.2" fill="#1b86c9" text-anchor="middle">5</text>
<rect x="511.5" y="405.4" width="22.4" height="22.4" fill="#1d98d6"/>
<text x="522.7" y="424.41" font-size="22" fill="#fff" stroke="#fff" stroke-width="0.3" text-anchor="middle">Б</text>
<rect x="511.5" y="491.4" width="22.4" height="22.4" fill="#e20a17"/>
<text x="522.7" y="510.41" font-size="22" fill="#fff" stroke="#fff" stroke-width="0.3" text-anchor="middle">A</text>
<g fill="#fff" stroke="#666" stroke-width="1.2"><g clip-path="url(#c25)"><rect x="616.8" y="415.85" width="28.9" height="9.25" rx="2.4" ry="2.4"/><rect x="647.7" y="415.85" width="28.9" height="9.25" rx="2.4" ry="2.4"/><rect x="678.6" y="415.85" width="28.9" height="9.25" rx="2.4" ry="2.4"/><rect x="709.5" y="415.85" width="28.9" height="9.25" rx="2.4" ry="2.4"/><rect x="740.4" y="415.85" width="28.9" height="9.25" rx="2.4" ry="2.4"/><rect x="601.35" y="426.8" width="28.9" height="9.25" rx="2.4" ry="2.4"/><rect x="632.25" y="426.8" width="28.9" height="9.25" rx="2.4" ry="2.4"/><rect x="663.15" y="426.8" width="28.9" height="9.25" rx="2.4" ry="2.4"/><rect x="694.05" y="426.8" width="28.9" height="9.25" rx="2.4" ry="2.4"/><rect x="724.95" y="426.8" width="28.9" height="9.25" rx="2.4" ry="2.4"/><rect x="616.8" y="437.75" width="28.9" height="9.25" rx="2.4" ry="2.4"/><rect x="647.7" y="437.75" width="28.9" height="9.25" rx="2.4" ry="2.4"/><rect x="678.6" y="437.75" width="28.9" height="9.25" rx="2.4" ry="2.4"/><rect x="709.5" y="437.75" width="28.9" height="9.25" rx="2.4" ry="2.4"/><rect x="740.4" y="437.75" width="28.9" height="9.25" rx="2.4" ry="2.4"/><rect x="601.35" y="448.7" width="28.9" height="9.25" rx="2.4" ry="2.4"/><rect x="632.25" y="448.7" width="28.9" height="9.25" rx="2.4" ry="2.4"/><rect x="663.15" y="448.7" width="28.9" height="9.25" rx="2.4" ry="2.4"/><rect x="694.05" y="448.7" width="28.9" height="9.25" rx="2.4" ry="2.4"/><rect x="724.95" y="448.7" width="28.9" height="9.25" rx="2.4" ry="2.4"/><rect x="616.8" y="459.65" width="28.9" height="9.25" rx="2.4" ry="2.4"/><rect x="647.7" y="459.65" width="28.9" height="9.25" rx="2.4" ry="2.4"/><rect x="678.6" y="459.65" width="28.9" height="9.25" rx="2.4" ry="2.4"/><rect x="709.5" y="459.65" width="28.9" height="9.25" rx="2.4" ry="2.4"/><rect x="740.4" y="459.65" width="28.9" height="9.25" rx="2.4" ry="2.4"/><rect x="601.35" y="470.6" width="28.9" height="9.25" rx="2.4" ry="2.4"/><rect x="632.25" y="470.6" width="28.9" height="9.25" rx="2.4" ry="2.4"/><rect x="663.15" y="470.6" width="28.9" height="9.25" rx="2.4" ry="2.4"/><rect x="694.05" y="470.6" width="28.9" height="9.25" rx="2.4" ry="2.4"/><rect x="724.95" y="470.6" width="28.9" height="9.25" rx="2.4" ry="2.4"/><rect x="616.8" y="481.55" width="28.9" height="9.25" rx="2.4" ry="2.4"/><rect x="647.7" y="481.55" width="28.9" height="9.25" rx="2.4" ry="2.4"/><rect x="678.6" y="481.55" width="28.9" height="9.25" rx="2.4" ry="2.4"/><rect x="709.5" y="481.55" width="28.9" height="9.25" rx="2.4" ry="2.4"/><rect x="740.4" y="481.55" width="28.9" height="9.25" rx="2.4" ry="2.4"/><rect x="601.35" y="492.5" width="28.9" height="9.25" rx="2.4" ry="2.4"/><rect x="632.25" y="492.5" width="28.9" height="9.25" rx="2.4" ry="2.4"/><rect x="663.15" y="492.5" width="28.9" height="9.25" rx="2.4" ry="2.4"/><rect x="694.05" y="492.5" width="28.9" height="9.25" rx="2.4" ry="2.4"/><rect x="724.95" y="492.5" width="28.9" height="9.25" rx="2.4" ry="2.4"/></g></g>
<path d="M722.4 436.2 H668.2 C669.8 439 673 442 673 446 C672.4 452 663.6 459 663.2 466 C663 472 666 477 668.6 481.2 H722.4 Z" fill="none" stroke="#3a3a3a" stroke-width="1.1"/>
<g fill="#fff" stroke="#666" stroke-width="1.2"><g clip-path="url(#c26)"><rect x="802.6" y="415.85" width="29.3" height="9.25" rx="2.4" ry="2.4"/><rect x="833.9" y="415.85" width="29.3" height="9.25" rx="2.4" ry="2.4"/><rect x="865.2" y="415.85" width="29.3" height="9.25" rx="2.4" ry="2.4"/><rect x="896.5" y="415.85" width="29.3" height="9.25" rx="2.4" ry="2.4"/><rect x="927.8" y="415.85" width="29.3" height="9.25" rx="2.4" ry="2.4"/><rect x="786.95" y="426.8" width="29.3" height="9.25" rx="2.4" ry="2.4"/><rect x="818.25" y="426.8" width="29.3" height="9.25" rx="2.4" ry="2.4"/><rect x="849.55" y="426.8" width="29.3" height="9.25" rx="2.4" ry="2.4"/><rect x="880.85" y="426.8" width="29.3" height="9.25" rx="2.4" ry="2.4"/><rect x="912.15" y="426.8" width="29.3" height="9.25" rx="2.4" ry="2.4"/><rect x="802.6" y="437.75" width="29.3" height="9.25" rx="2.4" ry="2.4"/><rect x="833.9" y="437.75" width="29.3" height="9.25" rx="2.4" ry="2.4"/><rect x="865.2" y="437.75" width="29.3" height="9.25" rx="2.4" ry="2.4"/><rect x="896.5" y="437.75" width="29.3" height="9.25" rx="2.4" ry="2.4"/><rect x="927.8" y="437.75" width="29.3" height="9.25" rx="2.4" ry="2.4"/><rect x="786.95" y="448.7" width="29.3" height="9.25" rx="2.4" ry="2.4"/><rect x="818.25" y="448.7" width="29.3" height="9.25" rx="2.4" ry="2.4"/><rect x="849.55" y="448.7" width="29.3" height="9.25" rx="2.4" ry="2.4"/><rect x="880.85" y="448.7" width="29.3" height="9.25" rx="2.4" ry="2.4"/><rect x="912.15" y="448.7" width="29.3" height="9.25" rx="2.4" ry="2.4"/><rect x="802.6" y="459.65" width="29.3" height="9.25" rx="2.4" ry="2.4"/><rect x="833.9" y="459.65" width="29.3" height="9.25" rx="2.4" ry="2.4"/><rect x="865.2" y="459.65" width="29.3" height="9.25" rx="2.4" ry="2.4"/><rect x="896.5" y="459.65" width="29.3" height="9.25" rx="2.4" ry="2.4"/><rect x="927.8" y="459.65" width="29.3" height="9.25" rx="2.4" ry="2.4"/><rect x="786.95" y="470.6" width="29.3" height="9.25" rx="2.4" ry="2.4"/><rect x="818.25" y="470.6" width="29.3" height="9.25" rx="2.4" ry="2.4"/><rect x="849.55" y="470.6" width="29.3" height="9.25" rx="2.4" ry="2.4"/><rect x="880.85" y="470.6" width="29.3" height="9.25" rx="2.4" ry="2.4"/><rect x="912.15" y="470.6" width="29.3" height="9.25" rx="2.4" ry="2.4"/><rect x="802.6" y="481.55" width="29.3" height="9.25" rx="2.4" ry="2.4"/><rect x="833.9" y="481.55" width="29.3" height="9.25" rx="2.4" ry="2.4"/><rect x="865.2" y="481.55" width="29.3" height="9.25" rx="2.4" ry="2.4"/><rect x="896.5" y="481.55" width="29.3" height="9.25" rx="2.4" ry="2.4"/><rect x="927.8" y="481.55" width="29.3" height="9.25" rx="2.4" ry="2.4"/><rect x="786.95" y="492.5" width="29.3" height="9.25" rx="2.4" ry="2.4"/><rect x="818.25" y="492.5" width="29.3" height="9.25" rx="2.4" ry="2.4"/><rect x="849.55" y="492.5" width="29.3" height="9.25" rx="2.4" ry="2.4"/><rect x="880.85" y="492.5" width="29.3" height="9.25" rx="2.4" ry="2.4"/><rect x="912.15" y="492.5" width="29.3" height="9.25" rx="2.4" ry="2.4"/></g></g>
<path d="M833.4 436.2 H889 C891.6 439 893.4 443 893.2 448 C892.6 455 884.4 464 883.8 472 C883.8 476 885.4 479 887.4 481.7 H833.4 Z" fill="none" stroke="#3a3a3a" stroke-width="1.1"/>
<line x1="834.2" y1="436" x2="834.2" y2="481.8" stroke="#333" stroke-width="1.2" />
<path d="M732.6 352 V311.2 C738.6 313.4 745.6 315.4 752.6 314.6 C768.6 313.4 780.6 306.6 794.6 306 C806.6 305.6 816.6 307.8 824.6 310.8 V385" fill="none" stroke="#1c1c1c" stroke-width="1.2"/>
<line x1="726.6" y1="329.4" x2="830.8" y2="329.4" stroke="#1c1c1c" stroke-width="1.8" />
<path d="M726.6 327.7 q2 -1.3 4 0 l-0.3 2.9 l-1.1 3.1 h-1.2 l-1.1 -3.1 z" fill="#1c1c1c"/>
<path d="M758.6 327.7 q2 -1.3 4 0 l-0.3 2.9 l-1.1 3.1 h-1.2 l-1.1 -3.1 z" fill="#1c1c1c"/>
<path d="M796.6 327.7 q2 -1.3 4 0 l-0.3 2.9 l-1.1 3.1 h-1.2 l-1.1 -3.1 z" fill="#1c1c1c"/>
<path d="M826.4 327.7 q2 -1.3 4 0 l-0.3 2.9 l-1.1 3.1 h-1.2 l-1.1 -3.1 z" fill="#1c1c1c"/>
<rect x="732.6" y="337.2" width="92" height="2.4" fill="#b4b4b4" stroke="none" stroke-width="0" rx="0"/>
<line x1="732.6" y1="337.2" x2="824.6" y2="337.2" stroke="#555" stroke-width="0.9" />
<line x1="732.6" y1="339.6" x2="824.6" y2="339.6" stroke="#2a2a2a" stroke-width="0.9" />
<line x1="778.2" y1="329.4" x2="778.2" y2="392.6" stroke="#3a3a3a" stroke-width="1.7" />
<rect x="758" y="382.8" width="67.2" height="2.7" fill="#b4b4b4" stroke="none" stroke-width="0" rx="0"/>
<line x1="758" y1="382.8" x2="825.2" y2="382.8" stroke="#555" stroke-width="0.9" />
<line x1="758" y1="385.5" x2="825.2" y2="385.5" stroke="#2a2a2a" stroke-width="0.9" />
<line x1="766" y1="393.2" x2="831.4" y2="393.2" stroke="#1c1c1c" stroke-width="1.8" />
<path d="M796.6 394.9 q2 1.3 4 0 l-0.3 -2.9 l-1.1 -3.1 h-1.2 l-1.1 3.1 z" fill="#1c1c1c"/>
<path d="M826.2 394.9 q2 1.3 4 0 l-0.3 -2.9 l-1.1 -3.1 h-1.2 l-1.1 3.1 z" fill="#1c1c1c"/>
<line x1="790" y1="427.8" x2="831.4" y2="427.8" stroke="#1c1c1c" stroke-width="1.8" />
<path d="M796.6 429.5 q2 1.3 4 0 l-0.3 -2.9 l-1.1 -3.1 h-1.2 l-1.1 3.1 z" fill="#1c1c1c"/>
<path d="M826.2 429.5 q2 1.3 4 0 l-0.3 -2.9 l-1.1 -3.1 h-1.2 l-1.1 3.1 z" fill="#1c1c1c"/>
<line x1="824.6" y1="385" x2="824.6" y2="490.8" stroke="#1c1c1c" stroke-width="1.2" />
<path d="M696.8 435.6 V352 H753.4 C751.4 356 749 359 749.2 363 C750 371 760 379 766 388 C772 396 781 404 786.5 410 C790.5 414.6 793.4 420 792.2 426 C791.4 430 788.6 433.4 785.4 435.6 Z" fill="url(#xh)" stroke="#222" stroke-width="0.8"/>
<path d="M844.2 352 H860 V435.6 H831.4 V387.4 H844.2 Z" fill="url(#xh)" stroke="#222" stroke-width="0.8"/>
<path d="M722.4 436.2 H785.4 C779 443 775 451 772.6 459 C770 468 768 475 766.8 481.2 H722.4 Z" fill="#fff"/>
<g clip-path="url(#c27)" stroke="#5c5c5c" stroke-width="0.8" stroke-dasharray="6.8 2.6 1.2 2.6" fill="none"><line x1="704.63" y1="482.2" x2="726.55" y2="435.2" stroke-dashoffset="6.64"/><line x1="710.37" y1="482.2" x2="732.29" y2="435.2" stroke-dashoffset="1.34"/><line x1="716.11" y1="482.2" x2="738.02" y2="435.2" stroke-dashoffset="9.24"/><line x1="721.84" y1="482.2" x2="743.76" y2="435.2" stroke-dashoffset="0.04"/><line x1="727.58" y1="482.2" x2="749.5" y2="435.2" stroke-dashoffset="7.94"/><line x1="733.32" y1="482.2" x2="755.24" y2="435.2" stroke-dashoffset="2.64"/><line x1="739.06" y1="482.2" x2="760.97" y2="435.2" stroke-dashoffset="6.64"/><line x1="744.79" y1="482.2" x2="766.71" y2="435.2" stroke-dashoffset="1.34"/><line x1="750.53" y1="482.2" x2="772.45" y2="435.2" stroke-dashoffset="9.24"/><line x1="756.27" y1="482.2" x2="778.19" y2="435.2" stroke-dashoffset="0.04"/><line x1="762.01" y1="482.2" x2="783.92" y2="435.2" stroke-dashoffset="7.94"/><line x1="767.75" y1="482.2" x2="789.66" y2="435.2" stroke-dashoffset="2.64"/><line x1="773.48" y1="482.2" x2="795.4" y2="435.2" stroke-dashoffset="6.64"/><line x1="779.22" y1="482.2" x2="801.14" y2="435.2" stroke-dashoffset="1.34"/><line x1="784.96" y1="482.2" x2="806.87" y2="435.2" stroke-dashoffset="9.24"/></g>
<path d="M722.4 436.2 H785.4 C779 443 775 451 772.6 459 C770 468 768 475 766.8 481.2 H722.4 Z" fill="none" stroke="#444" stroke-width="0.7"/>
<path d="M824.6 436.2 H833.4 V481.4 H824.6 Z" fill="#fff"/>
<g clip-path="url(#c28)" stroke="#5c5c5c" stroke-width="0.8" stroke-dasharray="6.8 2.6 1.2 2.6" fill="none"><line x1="802.08" y1="482.4" x2="824.09" y2="435.2" stroke-dashoffset="2.42"/><line x1="807.81" y1="482.4" x2="829.82" y2="435.2" stroke-dashoffset="6.42"/><line x1="813.55" y1="482.4" x2="835.56" y2="435.2" stroke-dashoffset="1.12"/><line x1="819.29" y1="482.4" x2="841.3" y2="435.2" stroke-dashoffset="9.02"/><line x1="825.03" y1="482.4" x2="847.04" y2="435.2" stroke-dashoffset="13.02"/><line x1="830.77" y1="482.4" x2="852.77" y2="435.2" stroke-dashoffset="7.72"/></g>
<path d="M824.6 436.2 H833.4 V481.4 H824.6 Z" fill="none" stroke="#444" stroke-width="0.8"/>
<g transform="translate(656.7 -72.6)">
<rect x="170.1" y="414.8" width="14.6" height="16.4" fill="#fff" stroke="#222" stroke-width="1.2" rx="0"/>
<line x1="172.6" y1="416" x2="172.6" y2="431" stroke="#666" stroke-width="0.8" />
<line x1="182.2" y1="416" x2="182.2" y2="431" stroke="#666" stroke-width="0.8" />
<rect x="169.4" y="413.9" width="2.6" height="1.8" fill="#1c1c1c" stroke="none" stroke-width="0" rx="0"/>
<rect x="177.3" y="413.4" width="2.4" height="1.8" fill="#1c1c1c" stroke="none" stroke-width="0" rx="0"/>
<rect x="183" y="413.9" width="2.4" height="1.8" fill="#1c1c1c" stroke="none" stroke-width="0" rx="0"/>
<rect x="168.6" y="431.2" width="19" height="23.4" fill="#fff" stroke="#333" stroke-width="1.0" rx="0"/>
<line x1="168.8" y1="431.2" x2="168.8" y2="454.6" stroke="#1c1c1c" stroke-width="1.8" />
<circle cx="169.8" cy="433.4" r="0.8" fill="#1c1c1c"/>
<circle cx="169.8" cy="447.6" r="0.8" fill="#1c1c1c"/>
<rect x="168.6" y="454.6" width="19.6" height="3.6" fill="#fff" stroke="#333" stroke-width="0.9" rx="0"/>
</g>
<path d="M732.6 481.4 V490 C737.6 487.6 742.6 485 748.6 485.4 C766.6 486.4 778.6 496.4 794.6 496.8 C806.6 497 816.6 494 824.6 490.8" fill="none" stroke="#1c1c1c" stroke-width="1.2"/>
<rect x="799.55" y="298.55" width="18.3" height="18.1" fill="#fcfeff" stroke="#97d0ef" stroke-width="0.85"/>
<text x="808.7" y="314.47" font-size="19.2" fill="#1b86c9" text-anchor="middle">2</text>
<rect x="799.55" y="352.85" width="18.3" height="18.1" fill="#fcfeff" stroke="#97d0ef" stroke-width="0.85"/>
<text x="808.7" y="368.77" font-size="19.2" fill="#1b86c9" text-anchor="middle">4</text>
<rect x="735.35" y="401.05" width="18.3" height="18.1" fill="#fcfeff" stroke="#97d0ef" stroke-width="0.85"/>
<text x="744.5" y="416.97" font-size="19.2" fill="#1b86c9" text-anchor="middle">3</text>
<rect x="799.55" y="401.05" width="18.3" height="18.1" fill="#fcfeff" stroke="#97d0ef" stroke-width="0.85"/>
<text x="808.7" y="416.97" font-size="19.2" fill="#1b86c9" text-anchor="middle">6</text>
<rect x="690.95" y="449.15" width="18.3" height="18.1" fill="#fcfeff" stroke="#97d0ef" stroke-width="0.85"/>
<text x="700.1" y="465.07" font-size="19.2" fill="#1b86c9" text-anchor="middle">1</text>
<rect x="735.35" y="449.15" width="18.3" height="18.1" fill="#fcfeff" stroke="#97d0ef" stroke-width="0.85"/>
<text x="744.5" y="465.07" font-size="19.2" fill="#1b86c9" text-anchor="middle">5</text>
<rect x="799.55" y="449.15" width="18.3" height="18.1" fill="#fcfeff" stroke="#97d0ef" stroke-width="0.85"/>
<text x="808.7" y="465.07" font-size="19.2" fill="#1b86c9" text-anchor="middle">2</text>
<rect x="865.8" y="405.6" width="22.4" height="22.4" fill="#1d98d6"/>
<text x="877" y="424.61" font-size="22" fill="#fff" stroke="#fff" stroke-width="0.3" text-anchor="middle">Б</text>
<rect x="865.8" y="491" width="22.4" height="22.4" fill="#e20a17"/>
<text x="877" y="510.01" font-size="22" fill="#fff" stroke="#fff" stroke-width="0.3" text-anchor="middle">A</text>
</svg>
</body></html>
